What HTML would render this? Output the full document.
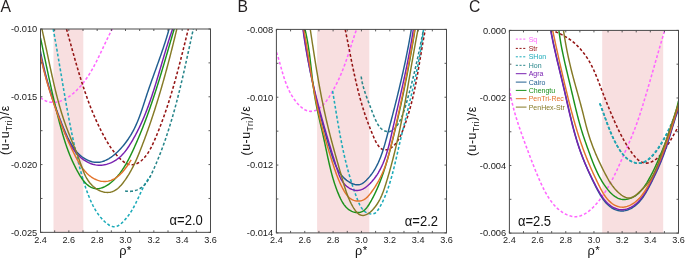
<!DOCTYPE html>
<html><head><meta charset="utf-8"><title>figure</title>
<style>html,body{margin:0;padding:0;background:#fff;width:685px;height:258px;overflow:hidden;font-family:"Liberation Sans",sans-serif}svg{display:block;will-change:transform}</style>
</head><body>
<svg xmlns="http://www.w3.org/2000/svg" width="685" height="258" viewBox="0 0 685 258" font-family=''Liberation Sans', sans-serif'>
<rect width="685" height="258" fill="#fff"/>
<clipPath id="clipA"><rect x="40.50" y="29.00" width="170.00" height="203.35"/></clipPath>
<rect x="53.50" y="29.00" width="29.80" height="203.35" fill="#f8dfe0"/>
<g clip-path="url(#clipA)" fill="none" stroke-linejoin="round">
<path d="M40.48,97.52 41.78,98.60 43.12,99.54 44.49,100.33 45.89,100.98 47.31,101.51 48.74,101.90 50.19,102.18 51.65,102.34 53.11,102.38 54.57,102.32 56.02,102.17 57.46,101.91 58.89,101.57 60.30,101.14 61.70,100.63 63.08,100.04 64.44,99.39 65.78,98.67 67.10,97.89 68.39,97.06 69.67,96.18 70.92,95.26 72.14,94.30 73.34,93.30 74.51,92.28 75.65,91.23 76.77,90.16 77.86,89.06 78.93,87.94 79.97,86.80 80.99,85.64 81.98,84.46 82.95,83.26 83.90,82.05 84.83,80.81 85.74,79.56 86.63,78.29 87.51,77.01 88.36,75.71 89.20,74.40 90.02,73.08 90.83,71.75 91.62,70.40 92.40,69.05 93.16,67.68 93.91,66.31 94.65,64.93 95.38,63.54 96.10,62.15 96.81,60.75 97.52,59.35 98.21,57.94 98.90,56.53 99.58,55.12 100.25,53.71 100.92,52.29 101.59,50.88 102.25,49.47 102.91,48.06 103.57,46.65 104.23,45.25 104.88,43.85 105.54,42.46 106.20,41.08 106.86,39.70 107.52,38.32 108.19,36.96 108.86,35.61 109.54,34.27 110.22,32.93 110.91,31.61 111.60,30.31 112.31,29.01" stroke="#ff66ff" stroke-width="1.55" stroke-dasharray="2.9 2.1"/>
<path d="M66.50,29.00 66.91,30.46 67.32,31.93 67.73,33.39 68.14,34.86 68.54,36.32 68.95,37.78 69.35,39.25 69.76,40.71 70.16,42.17 70.57,43.64 70.97,45.10 71.37,46.56 71.78,48.02 72.18,49.48 72.59,50.94 73.00,52.40 73.40,53.86 73.81,55.31 74.22,56.77 74.63,58.23 75.04,59.68 75.46,61.14 75.87,62.59 76.29,64.04 76.71,65.49 77.13,66.94 77.56,68.39 77.99,69.84 78.42,71.28 78.85,72.73 79.29,74.17 79.72,75.61 80.17,77.05 80.61,78.49 81.06,79.93 81.52,81.37 81.97,82.80 82.43,84.23 82.90,85.67 83.37,87.10 83.84,88.52 84.32,89.95 84.81,91.38 85.30,92.80 85.79,94.22 86.29,95.64 86.79,97.06 87.30,98.47 87.82,99.88 88.34,101.30 88.87,102.70 89.40,104.11 89.94,105.52 90.49,106.92 91.04,108.32 91.60,109.72 92.17,111.11 92.75,112.51 93.33,113.90 93.92,115.28 94.51,116.67 95.12,118.05 95.73,119.43 96.35,120.81 96.98,122.19 97.61,123.56 98.26,124.93 98.91,126.30 99.57,127.66 100.24,129.02 100.92,130.38 101.61,131.74 102.31,133.09 103.02,134.44 103.73,135.79 104.46,137.13 105.20,138.47 105.96,139.80 106.73,141.12 107.51,142.44 108.31,143.74 109.13,145.04 109.97,146.32 110.82,147.59 111.70,148.85 112.61,150.10 113.53,151.32 114.49,152.54 115.46,153.73 116.47,154.91 117.51,156.06 118.57,157.20 119.67,158.31 120.79,159.39 121.95,160.43 123.14,161.39 124.35,162.28 125.59,163.06 126.86,163.71 128.15,164.23 129.46,164.59 130.79,164.77 132.14,164.77 133.49,164.60 134.84,164.28 136.18,163.81 137.50,163.22 138.79,162.50 140.04,161.67 141.24,160.75 142.38,159.74 143.47,158.66 144.51,157.53 145.49,156.34 146.43,155.12 147.33,153.88 148.18,152.60 148.99,151.30 149.77,149.99 150.52,148.65 151.23,147.29 151.93,145.92 152.59,144.54 153.24,143.15 153.87,141.75 154.49,140.34 155.10,138.93 155.70,137.52 156.29,136.11 156.88,134.69 157.46,133.28 158.03,131.86 158.60,130.45 159.16,129.03 159.71,127.61 160.26,126.19 160.80,124.77 161.34,123.35 161.87,121.93 162.39,120.51 162.91,119.08 163.43,117.66 163.94,116.23 164.44,114.81 164.94,113.38 165.43,111.95 165.92,110.52 166.40,109.09 166.88,107.66 167.36,106.23 167.83,104.80 168.29,103.36 168.75,101.93 169.21,100.49 169.66,99.05 170.11,97.62 170.55,96.18 170.99,94.74 171.43,93.30 171.86,91.86 172.29,90.41 172.71,88.97 173.14,87.53 173.56,86.08 173.97,84.64 174.38,83.19 174.79,81.74 175.20,80.29 175.60,78.84 176.00,77.39 176.40,75.94 176.79,74.49 177.19,73.04 177.58,71.58 177.97,70.13 178.35,68.67 178.74,67.21 179.12,65.75 179.50,64.30 179.88,62.84 180.25,61.38 180.63,59.91 181.00,58.45 181.37,56.99 181.74,55.52 182.11,54.06 182.48,52.59 182.85,51.12 183.21,49.65 183.58,48.18 183.94,46.71 184.31,45.24 184.67,43.77 185.03,42.30 185.40,40.82 185.76,39.35 186.12,37.87 186.48,36.40 186.85,34.92 187.21,33.44 187.57,31.96 187.94,30.48 188.30,29.00" stroke="#941414" stroke-width="1.55" stroke-dasharray="2.9 2.1"/>
<path d="M53.20,29.00 53.48,30.51 53.76,32.02 54.04,33.53 54.31,35.04 54.58,36.55 54.86,38.06 55.13,39.56 55.40,41.07 55.66,42.57 55.93,44.07 56.19,45.58 56.45,47.08 56.72,48.58 56.98,50.08 57.24,51.57 57.49,53.07 57.75,54.57 58.01,56.06 58.26,57.56 58.52,59.05 58.77,60.55 59.02,62.04 59.28,63.53 59.53,65.02 59.78,66.51 60.03,68.00 60.28,69.49 60.53,70.98 60.78,72.47 61.03,73.96 61.29,75.45 61.54,76.93 61.79,78.42 62.04,79.90 62.29,81.39 62.54,82.87 62.79,84.36 63.04,85.84 63.30,87.33 63.55,88.81 63.80,90.29 64.06,91.78 64.32,93.26 64.57,94.74 64.83,96.22 65.09,97.70 65.35,99.19 65.61,100.67 65.87,102.15 66.14,103.63 66.40,105.11 66.67,106.59 66.93,108.08 67.20,109.56 67.47,111.04 67.75,112.52 68.02,114.00 68.30,115.48 68.58,116.96 68.86,118.45 69.14,119.93 69.43,121.41 69.71,122.89 70.00,124.38 70.29,125.86 70.59,127.34 70.88,128.82 71.18,130.31 71.49,131.79 71.79,133.28 72.10,134.76 72.41,136.25 72.72,137.73 73.04,139.22 73.36,140.71 73.68,142.19 74.00,143.68 74.33,145.17 74.67,146.66 75.00,148.15 75.34,149.64 75.68,151.13 76.03,152.62 76.38,154.11 76.73,155.60 77.09,157.10 77.45,158.59 77.82,160.09 78.19,161.58 78.56,163.08 78.94,164.57 79.32,166.07 79.71,167.56 80.11,169.05 80.51,170.54 80.91,172.03 81.33,173.51 81.74,175.00 82.17,176.47 82.60,177.95 83.04,179.42 83.49,180.88 83.94,182.34 84.40,183.80 84.87,185.25 85.35,186.69 85.84,188.13 86.34,189.55 86.84,190.97 87.36,192.39 87.88,193.79 88.41,195.19 88.96,196.58 89.51,197.95 90.08,199.32 90.66,200.68 91.26,202.02 91.88,203.36 92.52,204.68 93.18,206.00 93.87,207.29 94.58,208.58 95.33,209.86 96.10,211.12 96.91,212.36 97.76,213.59 98.64,214.81 99.56,216.01 100.53,217.20 101.53,218.37 102.59,219.53 103.69,220.66 104.84,221.78 106.03,222.84 107.26,223.82 108.52,224.71 109.79,225.47 111.09,226.07 112.40,226.50 113.71,226.73 115.02,226.73 116.32,226.48 117.62,225.98 118.89,225.27 120.14,224.39 121.37,223.37 122.57,222.25 123.74,221.06 124.87,219.85 125.96,218.62 127.00,217.36 128.00,216.10 128.95,214.83 129.85,213.54 130.71,212.25 131.54,210.95 132.33,209.64 133.09,208.32 133.82,207.00 134.53,205.67 135.21,204.34 135.87,203.00 136.52,201.66 137.16,200.32 137.78,198.97 138.40,197.62 139.02,196.28 139.64,194.93 140.26,193.58 140.88,192.24 141.52,190.90 142.16,189.56 142.83,188.22 143.51,186.89 144.21,185.57 144.94,184.25 145.69,182.93 146.48,181.63 147.30,180.33 148.16,179.04 149.06,177.76 150.00,176.50" stroke="#1cabb9" stroke-width="1.55" stroke-dasharray="2.9 2.1"/>
<path d="M125.08,190.95 126.66,191.23 128.24,191.38 129.81,191.40 131.36,191.31 132.88,191.11 134.37,190.79 135.82,190.37 137.23,189.86 138.58,189.25 139.86,188.55 141.08,187.77 142.23,186.91 143.31,185.98 144.34,184.98 145.31,183.92 146.23,182.81 147.10,181.64 147.93,180.42 148.72,179.16 149.48,177.87 150.20,176.54 150.90,175.19 151.58,173.82 152.24,172.43 152.88,171.03 153.52,169.62 154.15,168.21 154.77,166.80 155.38,165.39 155.99,163.98 156.58,162.56 157.18,161.14 157.76,159.73 158.34,158.30 158.92,156.88 159.48,155.45 160.04,154.03 160.60,152.60 161.14,151.17 161.69,149.73 162.22,148.30 162.75,146.86 163.27,145.43 163.79,143.99 164.31,142.55 164.81,141.10 165.31,139.66 165.81,138.22 166.30,136.77 166.78,135.32 167.26,133.87 167.74,132.42 168.21,130.97 168.67,129.51 169.13,128.06 169.59,126.60 170.04,125.14 170.49,123.68 170.93,122.22 171.37,120.76 171.80,119.30 172.23,117.84 172.65,116.37 173.07,114.91 173.49,113.44 173.90,111.97 174.31,110.50 174.71,109.03 175.12,107.56 175.51,106.09 175.91,104.62 176.30,103.14 176.68,101.67 177.07,100.19 177.45,98.72 177.83,97.24 178.20,95.76 178.57,94.29 178.94,92.81 179.31,91.33 179.67,89.85 180.03,88.37 180.39,86.89 180.75,85.41 181.10,83.92 181.45,82.44 181.80,80.96 182.15,79.48 182.49,77.99 182.84,76.51 183.18,75.02 183.52,73.54 183.86,72.05 184.19,70.57 184.53,69.08 184.86,67.60 185.19,66.11 185.52,64.63 185.85,63.14 186.18,61.66 186.51,60.17 186.84,58.68 187.16,57.20 187.49,55.71 187.81,54.23 188.14,52.74 188.46,51.25 188.78,49.77 189.11,48.28 189.43,46.80 189.75,45.31 190.07,43.83 190.40,42.35 190.72,40.86 191.04,39.38 191.36,37.89 191.69,36.41 192.01,34.93 192.33,33.45 192.66,31.97 192.98,30.49 193.31,29.00" stroke="#27858a" stroke-width="1.55" stroke-dasharray="2.9 2.1"/>
<path d="M40.50,51.49 40.79,53.02 41.09,54.53 41.39,56.04 41.69,57.55 42.01,59.05 42.32,60.55 42.65,62.04 42.98,63.53 43.31,65.01 43.65,66.49 44.00,67.96 44.35,69.44 44.71,70.90 45.07,72.37 45.44,73.83 45.81,75.29 46.19,76.74 46.58,78.19 46.97,79.64 47.37,81.09 47.77,82.53 48.18,83.97 48.59,85.41 49.01,86.84 49.44,88.28 49.87,89.71 50.31,91.14 50.75,92.57 51.20,94.00 51.65,95.43 52.11,96.85 52.57,98.28 53.04,99.70 53.52,101.12 54.00,102.55 54.49,103.97 54.98,105.39 55.48,106.81 55.98,108.23 56.49,109.65 57.00,111.08 57.52,112.50 58.05,113.92 58.58,115.35 59.12,116.77 59.66,118.20 60.21,119.62 60.76,121.05 61.32,122.48 61.88,123.91 62.45,125.34 63.03,126.78 63.61,128.21 64.20,129.64 64.80,131.07 65.41,132.49 66.03,133.90 66.67,135.31 67.32,136.70 67.98,138.09 68.67,139.45 69.37,140.80 70.09,142.14 70.83,143.45 71.59,144.74 72.38,146.01 73.19,147.25 74.03,148.47 74.91,149.65 75.82,150.81 76.77,151.93 77.77,153.02 78.82,154.08 79.92,155.10 81.08,156.07 82.29,157.01 83.56,157.89 84.87,158.72 86.22,159.49 87.61,160.17 89.03,160.78 90.47,161.30 91.92,161.71 93.38,162.02 94.85,162.22 96.31,162.30 97.76,162.28 99.19,162.16 100.61,161.93 102.00,161.61 103.38,161.20 104.73,160.70 106.06,160.13 107.37,159.48 108.66,158.76 109.93,157.98 111.18,157.13 112.41,156.24 113.61,155.30 114.80,154.32 115.96,153.29 117.10,152.24 118.21,151.16 119.31,150.06 120.38,148.93 121.43,147.78 122.45,146.61 123.45,145.42 124.43,144.22 125.39,142.99 126.32,141.75 127.22,140.50 128.11,139.23 128.96,137.94 129.80,136.65 130.61,135.35 131.39,134.03 132.15,132.71 132.89,131.38 133.59,130.05 134.28,128.71 134.94,127.37 135.58,126.02 136.20,124.66 136.80,123.30 137.38,121.94 137.95,120.56 138.50,119.19 139.03,117.81 139.55,116.43 140.06,115.04 140.56,113.65 141.05,112.25 141.54,110.85 142.01,109.45 142.48,108.04 142.95,106.63 143.41,105.22 143.87,103.80 144.33,102.38 144.79,100.96 145.25,99.53 145.71,98.10 146.18,96.67 146.65,95.24 147.13,93.80 147.62,92.36 148.11,90.92 148.60,89.48 149.10,88.04 149.60,86.59 150.10,85.15 150.61,83.70 151.12,82.25 151.64,80.80 152.15,79.35 152.67,77.90 153.19,76.45 153.71,74.99 154.23,73.54 154.76,72.09 155.28,70.63 155.80,69.18 156.33,67.72 156.85,66.27 157.37,64.82 157.89,63.37 158.40,61.91 158.92,60.46 159.43,59.01 159.94,57.56 160.45,56.12 160.96,54.67 161.46,53.22 161.95,51.78 162.45,50.34 162.93,48.90 163.42,47.46 163.89,46.02 164.37,44.59 164.83,43.16 165.29,41.73 165.75,40.30 166.19,38.88 166.63,37.46 167.06,36.04 167.49,34.63 167.90,33.22 168.31,31.81 168.71,30.40 169.10,29.00" stroke="#205e90" stroke-width="1.45"/>
<path d="M40.50,54.49 40.82,56.02 41.13,57.55 41.46,59.06 41.79,60.57 42.12,62.08 42.47,63.58 42.81,65.07 43.16,66.55 43.52,68.03 43.88,69.50 44.24,70.97 44.62,72.44 44.99,73.89 45.37,75.35 45.76,76.80 46.15,78.24 46.55,79.69 46.95,81.12 47.36,82.56 47.77,83.99 48.18,85.42 48.61,86.85 49.03,88.27 49.46,89.69 49.90,91.11 50.34,92.53 50.79,93.94 51.24,95.36 51.69,96.77 52.16,98.19 52.62,99.60 53.09,101.01 53.57,102.42 54.05,103.84 54.53,105.25 55.02,106.66 55.52,108.08 56.02,109.49 56.52,110.91 57.03,112.33 57.54,113.75 58.06,115.17 58.58,116.59 59.11,118.02 59.64,119.45 60.18,120.88 60.72,122.32 61.27,123.76 61.82,125.20 62.38,126.65 62.94,128.10 63.51,129.54 64.09,130.99 64.67,132.44 65.28,133.88 65.89,135.31 66.52,136.73 67.16,138.14 67.83,139.54 68.51,140.93 69.22,142.30 69.94,143.65 70.69,144.98 71.47,146.28 72.27,147.57 73.11,148.82 73.97,150.05 74.86,151.26 75.79,152.42 76.75,153.56 77.75,154.66 78.79,155.72 79.87,156.75 80.98,157.73 82.14,158.67 83.34,159.56 84.58,160.41 85.85,161.20 87.16,161.93 88.49,162.60 89.85,163.20 91.24,163.74 92.64,164.20 94.07,164.58 95.51,164.88 96.96,165.10 98.42,165.23 99.89,165.26 101.36,165.20 102.83,165.06 104.29,164.83 105.75,164.53 107.20,164.14 108.63,163.68 110.04,163.15 111.44,162.55 112.80,161.88 114.14,161.16 115.44,160.37 116.71,159.53 117.93,158.64 119.11,157.70 120.25,156.71 121.35,155.68 122.40,154.60 123.42,153.50 124.40,152.35 125.35,151.18 126.27,149.98 127.16,148.76 128.02,147.51 128.87,146.25 129.69,144.97 130.49,143.68 131.29,142.39 132.06,141.08 132.83,139.77 133.58,138.46 134.32,137.14 135.05,135.81 135.77,134.48 136.47,133.14 137.16,131.80 137.85,130.45 138.52,129.10 139.18,127.74 139.83,126.38 140.47,125.01 141.10,123.64 141.72,122.26 142.34,120.88 142.94,119.50 143.53,118.11 144.12,116.72 144.69,115.33 145.26,113.93 145.82,112.52 146.37,111.12 146.92,109.71 147.46,108.29 147.99,106.88 148.51,105.46 149.03,104.04 149.54,102.61 150.04,101.19 150.54,99.76 151.03,98.32 151.52,96.89 152.00,95.45 152.48,94.01 152.95,92.57 153.42,91.13 153.89,89.69 154.35,88.24 154.80,86.79 155.25,85.34 155.70,83.89 156.15,82.44 156.59,80.99 157.03,79.54 157.47,78.08 157.91,76.63 158.34,75.18 158.77,73.72 159.20,72.26 159.63,70.81 160.06,69.35 160.49,67.90 160.92,66.44 161.34,64.98 161.77,63.53 162.20,62.07 162.63,60.62 163.05,59.17 163.48,57.71 163.91,56.26 164.34,54.81 164.78,53.36 165.21,51.91 165.65,50.46 166.09,49.02 166.53,47.57 166.97,46.13 167.42,44.69 167.87,43.25 168.33,41.82 168.78,40.38 169.25,38.95 169.71,37.52 170.18,36.10 170.66,34.67 171.14,33.25 171.62,31.83 172.11,30.42 172.61,29.00" stroke="#7820b0" stroke-width="1.45"/>
<path d="M40.50,37.80 40.81,39.29 41.12,40.77 41.43,42.25 41.74,43.74 42.05,45.21 42.35,46.69 42.66,48.17 42.97,49.64 43.28,51.11 43.59,52.58 43.90,54.05 44.21,55.52 44.52,56.99 44.83,58.46 45.14,59.93 45.45,61.39 45.76,62.86 46.07,64.33 46.38,65.79 46.70,67.26 47.01,68.73 47.32,70.20 47.64,71.66 47.96,73.13 48.27,74.60 48.59,76.07 48.91,77.55 49.23,79.02 49.56,80.50 49.88,81.97 50.20,83.45 50.53,84.93 50.86,86.41 51.18,87.89 51.51,89.37 51.85,90.85 52.18,92.33 52.52,93.81 52.85,95.30 53.19,96.78 53.53,98.26 53.87,99.74 54.22,101.22 54.56,102.70 54.91,104.17 55.26,105.65 55.62,107.13 55.97,108.60 56.33,110.07 56.69,111.54 57.05,113.01 57.41,114.48 57.78,115.94 58.15,117.40 58.52,118.86 58.90,120.32 59.27,121.77 59.65,123.22 60.04,124.67 60.42,126.11 60.81,127.55 61.21,128.99 61.60,130.42 62.01,131.85 62.42,133.28 62.83,134.70 63.25,136.13 63.68,137.55 64.11,138.96 64.56,140.38 65.01,141.79 65.47,143.20 65.94,144.61 66.42,146.02 66.91,147.42 67.42,148.83 67.93,150.23 68.46,151.63 69.00,153.02 69.55,154.42 70.12,155.82 70.70,157.21 71.29,158.60 71.90,160.00 72.53,161.39 73.17,162.78 73.83,164.17 74.50,165.56 75.20,166.95 75.91,168.34 76.64,169.73 77.39,171.11 78.17,172.50 78.96,173.89 79.77,175.27 80.62,176.63 81.49,177.96 82.40,179.26 83.34,180.51 84.32,181.72 85.35,182.86 86.43,183.93 87.55,184.93 88.72,185.85 89.94,186.65 91.20,187.35 92.50,187.91 93.82,188.32 95.18,188.57 96.55,188.67 97.94,188.63 99.33,188.45 100.71,188.15 102.09,187.74 103.46,187.22 104.79,186.60 106.11,185.91 107.39,185.13 108.64,184.29 109.86,183.40 111.05,182.45 112.21,181.47 113.33,180.46 114.42,179.43 115.48,178.36 116.51,177.26 117.51,176.15 118.48,175.00 119.43,173.84 120.35,172.65 121.24,171.44 122.11,170.21 122.95,168.96 123.78,167.70 124.58,166.42 125.37,165.12 126.14,163.81 126.89,162.49 127.62,161.15 128.34,159.81 129.04,158.46 129.74,157.09 130.42,155.72 131.09,154.35 131.75,152.97 132.40,151.59 133.04,150.20 133.68,148.82 134.31,147.43 134.94,146.04 135.56,144.65 136.17,143.26 136.78,141.87 137.38,140.48 137.98,139.08 138.57,137.69 139.16,136.29 139.74,134.89 140.32,133.50 140.89,132.10 141.46,130.70 142.02,129.30 142.57,127.89 143.13,126.49 143.67,125.09 144.22,123.68 144.75,122.28 145.29,120.87 145.82,119.46 146.34,118.05 146.86,116.64 147.38,115.23 147.89,113.82 148.40,112.41 148.91,110.99 149.41,109.58 149.90,108.16 150.40,106.75 150.89,105.33 151.38,103.91 151.86,102.49 152.34,101.07 152.82,99.65 153.29,98.23 153.77,96.80 154.23,95.38 154.70,93.96 155.16,92.53 155.62,91.10 156.08,89.68 156.54,88.25 156.99,86.82 157.44,85.39 157.89,83.96 158.34,82.53 158.78,81.09 159.23,79.66 159.67,78.23 160.11,76.79 160.55,75.36 160.98,73.92 161.42,72.48 161.85,71.04 162.28,69.60 162.71,68.16 163.14,66.72 163.57,65.28 164.00,63.84 164.43,62.40 164.85,60.95 165.28,59.51 165.70,58.06 166.13,56.62 166.55,55.17 166.97,53.72 167.40,52.27 167.82,50.82 168.24,49.37 168.66,47.92 169.09,46.47 169.51,45.02 169.93,43.57 170.36,42.11 170.78,40.66 171.21,39.20 171.63,37.75 172.06,36.29 172.48,34.83 172.91,33.37 173.34,31.92 173.77,30.46 174.20,29.00" stroke="#1c921c" stroke-width="1.45"/>
<path d="M40.50,55.99 40.82,57.50 41.14,59.01 41.48,60.51 41.82,62.01 42.16,63.51 42.52,65.00 42.88,66.49 43.24,67.98 43.61,69.47 43.99,70.95 44.38,72.43 44.77,73.91 45.17,75.38 45.57,76.86 45.98,78.33 46.39,79.79 46.81,81.26 47.24,82.72 47.67,84.18 48.10,85.64 48.54,87.10 48.98,88.55 49.43,90.00 49.89,91.45 50.34,92.90 50.81,94.35 51.27,95.79 51.74,97.23 52.22,98.67 52.69,100.11 53.17,101.55 53.66,102.98 54.15,104.41 54.64,105.85 55.13,107.27 55.63,108.70 56.13,110.13 56.63,111.55 57.14,112.98 57.65,114.40 58.16,115.82 58.67,117.24 59.19,118.66 59.72,120.07 60.24,121.49 60.78,122.90 61.31,124.32 61.86,125.73 62.40,127.14 62.96,128.55 63.52,129.96 64.08,131.36 64.65,132.77 65.23,134.18 65.82,135.58 66.41,136.99 67.01,138.39 67.62,139.79 68.23,141.20 68.86,142.60 69.49,144.00 70.13,145.40 70.78,146.80 71.43,148.20 72.10,149.60 72.78,151.00 73.47,152.40 74.16,153.80 74.87,155.19 75.59,156.59 76.32,157.98 77.07,159.37 77.83,160.75 78.61,162.11 79.41,163.45 80.24,164.78 81.09,166.08 81.96,167.35 82.87,168.59 83.80,169.80 84.77,170.97 85.78,172.10 86.82,173.19 87.89,174.23 89.01,175.21 90.18,176.15 91.38,177.02 92.64,177.84 93.94,178.59 95.29,179.27 96.68,179.88 98.10,180.40 99.55,180.84 101.02,181.17 102.48,181.40 103.95,181.52 105.41,181.52 106.85,181.39 108.26,181.14 109.66,180.78 111.04,180.32 112.39,179.75 113.71,179.09 115.01,178.35 116.27,177.52 117.51,176.62 118.71,175.66 119.88,174.63 121.01,173.55 122.10,172.42 123.16,171.25 124.17,170.04 125.14,168.80 126.08,167.55 126.98,166.27 127.86,164.99 128.72,163.70 129.55,162.42 130.38,161.15 131.19,159.89" stroke="#e3742c" stroke-width="1.45"/>
<path d="M41.90,29.00 42.24,30.45 42.57,31.90 42.90,33.35 43.23,34.80 43.56,36.26 43.88,37.72 44.21,39.18 44.53,40.65 44.85,42.11 45.16,43.58 45.48,45.05 45.80,46.53 46.11,48.00 46.43,49.48 46.74,50.96 47.05,52.44 47.36,53.92 47.68,55.40 47.99,56.89 48.30,58.37 48.62,59.86 48.93,61.34 49.25,62.83 49.56,64.32 49.88,65.81 50.20,67.30 50.52,68.79 50.84,70.27 51.16,71.76 51.49,73.25 51.81,74.74 52.14,76.23 52.48,77.71 52.81,79.20 53.15,80.69 53.49,82.17 53.83,83.65 54.18,85.14 54.53,86.62 54.88,88.10 55.24,89.57 55.60,91.05 55.96,92.53 56.33,94.00 56.71,95.47 57.09,96.94 57.47,98.40 57.86,99.87 58.25,101.33 58.65,102.79 59.05,104.24 59.46,105.70 59.88,107.15 60.30,108.60 60.72,110.04 61.16,111.48 61.60,112.92 62.04,114.35 62.50,115.78 62.96,117.21 63.42,118.63 63.90,120.05 64.38,121.46 64.87,122.87 65.37,124.27 65.87,125.67 66.38,127.07 66.90,128.46 67.43,129.85 67.96,131.23 68.50,132.62 69.05,134.00 69.60,135.38 70.15,136.76 70.70,138.14 71.26,139.52 71.82,140.90 72.39,142.28 72.95,143.67 73.51,145.06 74.08,146.45 74.64,147.84 75.20,149.24 75.76,150.65 76.32,152.06 76.88,153.48 77.43,154.90 77.98,156.34 78.52,157.78 79.06,159.22 79.59,160.68 80.12,162.15 80.64,163.63 81.15,165.11 81.67,166.60 82.19,168.09 82.73,169.58 83.29,171.05 83.88,172.51 84.50,173.96 85.15,175.38 85.85,176.77 86.60,178.13 87.40,179.46 88.26,180.75 89.17,182.00 90.12,183.19 91.13,184.33 92.18,185.42 93.28,186.45 94.41,187.41 95.59,188.29 96.80,189.11 98.05,189.85 99.33,190.50 100.64,191.06 101.98,191.54 103.35,191.92 104.72,192.19 106.11,192.36 107.49,192.42 108.87,192.36 110.23,192.18 111.57,191.88 112.89,191.45 114.17,190.88 115.41,190.18 116.61,189.36 117.78,188.45 118.92,187.44 120.02,186.35 121.09,185.19 122.12,183.98 123.12,182.72 124.09,181.43 125.04,180.13 125.95,178.82 126.83,177.50 127.68,176.18 128.51,174.86 129.31,173.52 130.09,172.19 130.85,170.85 131.58,169.51 132.30,168.16 132.99,166.81 133.67,165.45 134.33,164.09 134.97,162.73 135.60,161.37 136.22,160.00 136.82,158.62 137.41,157.25 137.99,155.87 138.57,154.49 139.13,153.11 139.69,151.72 140.25,150.33 140.80,148.94 141.34,147.55 141.89,146.15 142.42,144.75 142.96,143.35 143.49,141.95 144.02,140.55 144.55,139.14 145.07,137.73 145.59,136.32 146.11,134.91 146.62,133.50 147.13,132.08 147.64,130.67 148.14,129.25 148.64,127.83 149.14,126.41 149.64,124.98 150.13,123.56 150.62,122.13 151.10,120.70 151.59,119.27 152.07,117.84 152.54,116.40 153.02,114.97 153.49,113.53 153.96,112.10 154.42,110.66 154.89,109.22 155.35,107.78 155.80,106.33 156.26,104.89 156.71,103.45 157.16,102.00 157.61,100.55 158.05,99.10 158.49,97.65 158.93,96.20 159.37,94.75 159.80,93.30 160.24,91.85 160.67,90.39 161.09,88.94 161.52,87.48 161.94,86.03 162.36,84.57 162.78,83.11 163.19,81.65 163.60,80.20 164.01,78.74 164.42,77.28 164.83,75.82 165.23,74.35 165.63,72.89 166.03,71.43 166.43,69.97 166.83,68.51 167.22,67.04 167.61,65.58 168.00,64.12 168.39,62.65 168.77,61.19 169.16,59.72 169.54,58.26 169.92,56.80 170.29,55.33 170.67,53.87 171.04,52.40 171.42,50.94 171.79,49.47 172.15,48.01 172.52,46.55 172.89,45.08 173.25,43.62 173.61,42.15 173.97,40.69 174.33,39.23 174.69,37.77 175.04,36.30 175.40,34.84 175.75,33.38 176.10,31.92 176.45,30.46 176.80,29.00" stroke="#857a26" stroke-width="1.45"/>
</g>
<path d="M40.50,232.35v-2M40.50,29.00v2M54.67,232.35v-2M54.67,29.00v2M68.83,232.35v-2M68.83,29.00v2M83.00,232.35v-2M83.00,29.00v2M97.17,232.35v-2M97.17,29.00v2M111.33,232.35v-2M111.33,29.00v2M125.50,232.35v-2M125.50,29.00v2M139.67,232.35v-2M139.67,29.00v2M153.83,232.35v-2M153.83,29.00v2M168.00,232.35v-2M168.00,29.00v2M182.17,232.35v-2M182.17,29.00v2M196.33,232.35v-2M196.33,29.00v2M210.50,232.35v-2M210.50,29.00v2M40.50,29.00h2M210.50,29.00h-2M40.50,62.89h2M210.50,62.89h-2M40.50,96.78h2M210.50,96.78h-2M40.50,130.68h2M210.50,130.68h-2M40.50,164.57h2M210.50,164.57h-2M40.50,198.46h2M210.50,198.46h-2M40.50,232.35h2M210.50,232.35h-2" stroke="#4a4a4a" stroke-width="0.9" fill="none"/>
<rect x="40.50" y="29.00" width="170.00" height="203.35" fill="none" stroke="#4a4a4a" stroke-width="1"/>
<text x="40.50" y="242.5" font-size="9.1" text-anchor="middle" fill="#222">2.4</text>
<text x="68.83" y="242.5" font-size="9.1" text-anchor="middle" fill="#222">2.6</text>
<text x="97.17" y="242.5" font-size="9.1" text-anchor="middle" fill="#222">2.8</text>
<text x="125.50" y="242.5" font-size="9.1" text-anchor="middle" fill="#222">3.0</text>
<text x="153.83" y="242.5" font-size="9.1" text-anchor="middle" fill="#222">3.2</text>
<text x="182.17" y="242.5" font-size="9.1" text-anchor="middle" fill="#222">3.4</text>
<text x="210.50" y="242.5" font-size="9.1" text-anchor="middle" fill="#222">3.6</text>
<text x="37.30" y="32.30" font-size="9.3" text-anchor="end" fill="#222">-0.010</text>
<text x="37.30" y="100.08" font-size="9.3" text-anchor="end" fill="#222">-0.015</text>
<text x="37.30" y="167.87" font-size="9.3" text-anchor="end" fill="#222">-0.020</text>
<text x="37.30" y="235.65" font-size="9.3" text-anchor="end" fill="#222">-0.025</text>
<text x="125.20" y="254.7" font-size="12.8" text-anchor="middle" fill="#111">ρ<tspan font-size="11.5" dy="-1.0" dx="0.3">*</tspan></text>
<text transform="translate(9.30,130.08) rotate(-90)" font-size="12.4" letter-spacing="0.5" text-anchor="middle" fill="#111">(u-u<tspan font-size="8.5" dy="3">Tri</tspan><tspan dy="-3">)/ε</tspan></text>
<text transform="translate(169.60,225.40) scale(0.93,1)" font-size="14" fill="#111">α=2.0</text>
<text x="0.50" y="11.8" font-size="15.7" fill="#231f20">A</text>
<clipPath id="clipB"><rect x="276.40" y="29.40" width="170.10" height="203.50"/></clipPath>
<rect x="317.10" y="29.40" width="52.20" height="203.50" fill="#f8dfe0"/>
<g clip-path="url(#clipB)" fill="none" stroke-linejoin="round">
<path d="M276.50,52.30 276.98,53.74 277.44,55.19 277.90,56.64 278.34,58.09 278.77,59.55 279.20,61.01 279.62,62.48 280.03,63.95 280.44,65.42 280.85,66.88 281.27,68.35 281.68,69.82 282.10,71.29 282.53,72.75 282.96,74.21 283.41,75.67 283.86,77.12 284.33,78.57 284.81,80.01 285.32,81.45 285.84,82.88 286.38,84.30 286.94,85.71 287.53,87.12 288.14,88.51 288.78,89.89 289.45,91.27 290.16,92.63 290.89,93.97 291.66,95.31 292.47,96.63 293.31,97.94 294.20,99.23 295.13,100.50 296.10,101.76 297.12,103.00 298.17,104.20 299.27,105.36 300.41,106.46 301.59,107.48 302.79,108.42 304.03,109.25 305.30,109.96 306.60,110.54 307.92,110.98 309.26,111.26 310.62,111.36 312.00,111.29 313.37,111.06 314.73,110.68 316.07,110.17 317.36,109.53 318.61,108.77 319.82,107.92 320.99,106.96 322.12,105.93 323.21,104.81 324.27,103.63 325.29,102.40 326.28,101.11 327.24,99.78 328.16,98.43 329.06,97.05 329.92,95.66 330.76,94.26 331.57,92.88 332.36,91.50 333.13,90.15 333.87,88.82 334.60,87.50 335.30,86.19 335.99,84.88 336.65,83.58 337.31,82.28 337.95,80.97 338.57,79.66 339.19,78.33 339.79,76.99 340.39,75.63 340.97,74.26 341.55,72.88 342.12,71.49 342.67,70.08 343.23,68.67 343.77,67.24 344.30,65.81 344.83,64.37 345.36,62.92 345.87,61.46 346.39,60.00 346.89,58.54 347.39,57.07 347.89,55.60 348.38,54.12 348.87,52.65 349.36,51.17 349.84,49.69 350.32,48.22 350.80,46.74 351.27,45.27 351.75,43.81 352.22,42.34 352.70,40.88 353.17,39.43 353.64,37.99 354.11,36.55 354.59,35.12 355.06,33.70 355.54,32.29 356.02,30.89 356.50,29.50" stroke="#ff66ff" stroke-width="1.55" stroke-dasharray="2.9 2.1"/>
<path d="M345.20,29.50 345.51,30.96 345.81,32.43 346.12,33.90 346.42,35.36 346.72,36.84 347.02,38.31 347.31,39.79 347.61,41.26 347.91,42.74 348.20,44.22 348.49,45.71 348.79,47.19 349.08,48.68 349.38,50.16 349.67,51.65 349.97,53.14 350.26,54.63 350.56,56.12 350.86,57.61 351.15,59.10 351.45,60.59 351.76,62.08 352.06,63.57 352.36,65.06 352.67,66.55 352.98,68.04 353.29,69.53 353.60,71.01 353.92,72.50 354.24,73.99 354.56,75.47 354.89,76.96 355.22,78.44 355.55,79.92 355.89,81.40 356.23,82.87 356.57,84.35 356.92,85.82 357.27,87.29 357.63,88.76 357.99,90.22 358.36,91.69 358.73,93.15 359.11,94.60 359.49,96.06 359.88,97.51 360.28,98.96 360.68,100.40 361.08,101.84 361.50,103.28 361.92,104.71 362.34,106.14 362.78,107.56 363.22,108.98 363.66,110.40 364.12,111.81 364.58,113.22 365.05,114.63 365.53,116.03 366.02,117.44 366.52,118.84 367.02,120.25 367.53,121.66 368.06,123.07 368.59,124.48 369.13,125.90 369.69,127.32 370.25,128.75 370.82,130.18 371.41,131.62 372.01,133.07 372.61,134.53 373.23,136.00 373.87,137.47 374.52,138.94 375.21,140.40 375.93,141.82 376.70,143.21 377.52,144.54 378.41,145.81 379.36,146.98 380.39,148.00 381.51,148.84 382.72,149.43 383.99,149.79 385.31,149.91 386.65,149.78 387.99,149.42 389.30,148.86 390.56,148.16 391.75,147.35 392.88,146.47 393.94,145.50 394.94,144.46 395.88,143.35 396.77,142.18 397.61,140.95 398.40,139.67 399.16,138.35 399.87,136.99 400.55,135.60 401.20,134.18 401.82,132.74 402.42,131.28 403.00,129.81 403.56,128.34 404.11,126.87 404.65,125.41 405.17,123.94 405.68,122.47 406.18,121.01 406.67,119.54 407.15,118.08 407.62,116.62 408.07,115.15 408.52,113.69 408.95,112.23 409.37,110.77 409.79,109.31 410.19,107.85 410.59,106.39 410.98,104.93 411.35,103.47 411.72,102.01 412.09,100.55 412.44,99.09 412.79,97.63 413.13,96.17 413.46,94.71 413.78,93.25 414.10,91.79 414.41,90.33 414.72,88.87 415.02,87.41 415.32,85.95 415.61,84.48 415.90,83.02 416.18,81.56 416.45,80.09 416.73,78.63 417.00,77.16 417.26,75.70 417.53,74.23 417.79,72.76 418.04,71.29 418.30,69.82 418.55,68.35 418.80,66.87 419.05,65.40 419.30,63.92 419.55,62.45 419.79,60.97 420.04,59.49 420.29,58.01 420.53,56.52 420.78,55.04 421.03,53.55 421.28,52.06 421.53,50.57 421.78,49.08 422.03,47.59 422.28,46.09 422.54,44.60 422.80,43.10 423.06,41.59 423.33,40.09 423.60,38.58 423.87,37.08 424.15,35.57 424.43,34.05 424.72,32.54 425.01,31.02 425.30,29.50" stroke="#941414" stroke-width="1.55" stroke-dasharray="2.9 2.1"/>
<path d="M332.60,90.99 332.85,92.52 333.11,94.05 333.36,95.57 333.61,97.09 333.87,98.60 334.11,100.11 334.36,101.62 334.61,103.13 334.86,104.64 335.11,106.14 335.35,107.64 335.60,109.14 335.85,110.63 336.09,112.13 336.34,113.62 336.59,115.10 336.84,116.59 337.09,118.08 337.34,119.56 337.59,121.04 337.84,122.52 338.10,124.00 338.35,125.48 338.61,126.95 338.87,128.43 339.13,129.90 339.40,131.37 339.67,132.84 339.94,134.31 340.21,135.78 340.49,137.24 340.77,138.71 341.05,140.18 341.34,141.64 341.63,143.11 341.93,144.57 342.23,146.03 342.53,147.50 342.84,148.96 343.15,150.42 343.47,151.89 343.79,153.35 344.12,154.81 344.45,156.27 344.79,157.74 345.14,159.20 345.49,160.66 345.85,162.13 346.21,163.59 346.58,165.06 346.95,166.52 347.34,167.99 347.73,169.45 348.12,170.92 348.53,172.39 348.94,173.86 349.36,175.33 349.79,176.80 350.22,178.28 350.66,179.75 351.12,181.23 351.58,182.71 352.04,184.18 352.52,185.67 353.01,187.15 353.50,188.63 354.01,190.12 354.52,191.61 355.05,193.10 355.58,194.59 356.13,196.08 356.68,197.58 357.25,199.08 357.83,200.56 358.44,202.03 359.08,203.46 359.75,204.85 360.47,206.18 361.24,207.45 362.06,208.64 362.94,209.74 363.90,210.74 364.93,211.63 366.04,212.40 367.24,213.03 368.53,213.52 369.92,213.85 371.36,214.00 372.80,213.92 374.15,213.60 375.36,212.99 376.40,212.10 377.31,211.00 378.14,209.79 378.93,208.53 379.70,207.25 380.45,205.94 381.17,204.61 381.88,203.27 382.56,201.90 383.22,200.51 383.86,199.11 384.48,197.70 385.09,196.27 385.67,194.83 386.24,193.38 386.79,191.92 387.33,190.45 387.85,188.98 388.35,187.51 388.84,186.03 389.32,184.55 389.78,183.07 390.23,181.59 390.67,180.11 391.10,178.64 391.52,177.17 391.93,175.69 392.32,174.23 392.71,172.76 393.09,171.29 393.47,169.83 393.83,168.36 394.19,166.90 394.55,165.44 394.90,163.98 395.24,162.52 395.59,161.06 395.92,159.60 396.26,158.14 396.59,156.68 396.93,155.23 397.26,153.77 397.59,152.31 397.92,150.85 398.26,149.39 398.59,147.93 398.93,146.47 399.27,145.01 399.61,143.55 399.96,142.08 400.30,140.62 400.65,139.16 401.00,137.69 401.35,136.23 401.70,134.76 402.06,133.29 402.41,131.83 402.77,130.36 403.13,128.89 403.48,127.42 403.84,125.95 404.20,124.48 404.56,123.01 404.92,121.54 405.29,120.07 405.65,118.60 406.01,117.13 406.37,115.65 406.73,114.18 407.09,112.70 407.45,111.23 407.81,109.75 408.17,108.28 408.53,106.80 408.89,105.33 409.25,103.85 409.61,102.37 409.96,100.89 410.32,99.41 410.67,97.93 411.02,96.45 411.37,94.97 411.72,93.49 412.07,92.01 412.41,90.53 412.75,89.05 413.09,87.57 413.43,86.08 413.77,84.60 414.10,83.12 414.43,81.63 414.76,80.15 415.09,78.67 415.41,77.18 415.73,75.70 416.04,74.21 416.36,72.72 416.67,71.24 416.97,69.75 417.27,68.26 417.57,66.78 417.87,65.29 418.16,63.80 418.45,62.31 418.73,60.82 419.01,59.33 419.28,57.84 419.55,56.36 419.81,54.87 420.07,53.38 420.33,51.89 420.58,50.39 420.83,48.90 421.07,47.41 421.30,45.92 421.53,44.43 421.75,42.94 421.97,41.45 422.18,39.95 422.39,38.46 422.59,36.97 422.79,35.48 422.97,33.98 423.16,32.49 423.33,31.00 423.50,29.50" stroke="#1cabb9" stroke-width="1.55" stroke-dasharray="2.9 2.1"/>
<path d="M361.20,76.50 361.41,78.02 361.64,79.53 361.92,81.03 362.22,82.51 362.56,83.99 362.92,85.46 363.31,86.92 363.73,88.38 364.16,89.82 364.62,91.26 365.09,92.69 365.58,94.12 366.08,95.55 366.59,96.96 367.12,98.38 367.65,99.79 368.18,101.20 368.72,102.61 369.26,104.02 369.80,105.43 370.33,106.83 370.86,108.24 371.39,109.65 371.93,111.06 372.47,112.47 373.02,113.89 373.59,115.31 374.17,116.74 374.78,118.16 375.41,119.60 376.08,121.04 376.78,122.47 377.53,123.87 378.34,125.22 379.23,126.50 380.20,127.69 381.27,128.76 382.45,129.70 383.74,130.48 385.11,131.09 386.51,131.50 387.90,131.68 389.25,131.64 390.52,131.34 391.73,130.84 392.88,130.14 393.95,129.27 394.97,128.27 395.93,127.15 396.84,125.95 397.70,124.68 398.50,123.38 399.26,122.05 399.98,120.69 400.66,119.31 401.30,117.91 401.91,116.49 402.49,115.06 403.04,113.60 403.56,112.14 404.06,110.67 404.54,109.19 405.01,107.70 405.46,106.21 405.90,104.72 406.33,103.23 406.76,101.74 407.18,100.26 407.60,98.78 408.01,97.30 408.42,95.82 408.82,94.35 409.22,92.88 409.62,91.41 410.01,89.94 410.39,88.47 410.77,87.01 411.15,85.55 411.52,84.08 411.89,82.62 412.26,81.16 412.62,79.70 412.98,78.24 413.33,76.79 413.69,75.33 414.03,73.87 414.38,72.41 414.72,70.96 415.06,69.50 415.40,68.04 415.73,66.58 416.06,65.12 416.39,63.66 416.72,62.20 417.04,60.74 417.36,59.27 417.68,57.81 418.00,56.34 418.32,54.87 418.63,53.40 418.95,51.93 419.26,50.46 419.57,48.98 419.87,47.50 420.18,46.02 420.49,44.53 420.79,43.04 421.10,41.55 421.40,40.06 421.70,38.56 422.00,37.06 422.30,35.56 422.60,34.05 422.90,32.54 423.20,31.02 423.50,29.50" stroke="#27858a" stroke-width="1.55" stroke-dasharray="2.9 2.1"/>
<path d="M303.32,29.49 303.53,31.01 303.74,32.54 303.95,34.06 304.17,35.58 304.39,37.10 304.61,38.61 304.84,40.12 305.07,41.63 305.30,43.13 305.53,44.63 305.77,46.13 306.01,47.63 306.25,49.13 306.50,50.62 306.75,52.11 307.00,53.60 307.26,55.09 307.51,56.57 307.77,58.05 308.04,59.54 308.30,61.01 308.57,62.49 308.84,63.97 309.12,65.44 309.40,66.91 309.68,68.38 309.96,69.85 310.25,71.32 310.54,72.79 310.83,74.25 311.13,75.72 311.43,77.18 311.73,78.64 312.04,80.10 312.34,81.56 312.65,83.02 312.97,84.48 313.29,85.94 313.61,87.40 313.93,88.85 314.26,90.31 314.58,91.77 314.92,93.22 315.25,94.68 315.59,96.13 315.93,97.58 316.28,99.04 316.63,100.49 316.98,101.95 317.33,103.40 317.69,104.86 318.05,106.31 318.41,107.77 318.78,109.22 319.15,110.68 319.52,112.13 319.89,113.59 320.27,115.05 320.66,116.51 321.04,117.96 321.43,119.42 321.82,120.88 322.22,122.35 322.61,123.81 323.01,125.27 323.42,126.73 323.83,128.20 324.24,129.67 324.65,131.14 325.07,132.60 325.49,134.08 325.91,135.55 326.34,137.02 326.77,138.50 327.20,139.97 327.64,141.45 328.08,142.93 328.52,144.42 328.97,145.90 329.41,147.39 329.87,148.88 330.32,150.37 330.78,151.86 331.25,153.35 331.72,154.84 332.21,156.33 332.71,157.80 333.22,159.27 333.75,160.72 334.30,162.16 334.88,163.58 335.48,164.99 336.11,166.37 336.77,167.72 337.46,169.05 338.18,170.35 338.95,171.61 339.75,172.85 340.60,174.04 341.49,175.20 342.43,176.31 343.42,177.38 344.46,178.41 345.55,179.39 346.71,180.31 347.92,181.18 349.19,182.00 350.53,182.75 351.91,183.43 353.33,184.00 354.77,184.43 356.21,184.72 357.64,184.83 359.03,184.73 360.38,184.41 361.68,183.86 362.92,183.13 364.11,182.24 365.26,181.25 366.36,180.20 367.42,179.11 368.45,178.00 369.43,176.86 370.38,175.70 371.29,174.51 372.17,173.31 373.02,172.08 373.83,170.83 374.61,169.57 375.37,168.28 376.09,166.98 376.79,165.66 377.46,164.32 378.11,162.97 378.73,161.60 379.33,160.22 379.91,158.83 380.47,157.42 381.01,156.01 381.53,154.58 382.03,153.14 382.52,151.70 383.00,150.25 383.46,148.79 383.91,147.32 384.35,145.85 384.78,144.38 385.20,142.90 385.61,141.42 386.02,139.93 386.42,138.45 386.82,136.97 387.21,135.48 387.61,134.00 388.00,132.52 388.39,131.04 388.78,129.56 389.17,128.09 389.56,126.61 389.95,125.14 390.33,123.67 390.72,122.20 391.10,120.73 391.49,119.27 391.87,117.80 392.25,116.33 392.63,114.87 393.00,113.41 393.38,111.94 393.75,110.48 394.13,109.02 394.50,107.56 394.87,106.10 395.24,104.64 395.60,103.19 395.97,101.73 396.33,100.27 396.69,98.81 397.05,97.36 397.41,95.90 397.77,94.44 398.12,92.99 398.47,91.53 398.83,90.07 399.18,88.62 399.52,87.16 399.87,85.70 400.21,84.24 400.55,82.79 400.89,81.33 401.23,79.87 401.57,78.41 401.90,76.95 402.23,75.49 402.56,74.03 402.89,72.56 403.21,71.10 403.53,69.63 403.85,68.17 404.17,66.70 404.49,65.23 404.80,63.77 405.11,62.30 405.42,60.82 405.73,59.35 406.03,57.88 406.33,56.40 406.63,54.92 406.93,53.44 407.22,51.96 407.51,50.48 407.80,48.99 408.09,47.51 408.37,46.02 408.65,44.53 408.93,43.04 409.20,41.54 409.48,40.04 409.74,38.54 410.01,37.04 410.28,35.54 410.54,34.03 410.79,32.52 411.05,31.01 411.30,29.49" stroke="#205e90" stroke-width="1.45"/>
<path d="M303.02,29.49 303.22,31.01 303.43,32.53 303.65,34.04 303.86,35.56 304.09,37.07 304.31,38.58 304.54,40.09 304.78,41.59 305.02,43.09 305.26,44.60 305.50,46.09 305.75,47.59 306.01,49.08 306.27,50.58 306.53,52.07 306.79,53.56 307.06,55.04 307.34,56.53 307.61,58.01 307.89,59.49 308.18,60.98 308.47,62.45 308.76,63.93 309.05,65.41 309.35,66.88 309.65,68.35 309.96,69.82 310.27,71.30 310.58,72.76 310.89,74.23 311.21,75.70 311.54,77.16 311.86,78.63 312.19,80.09 312.52,81.55 312.86,83.01 313.19,84.47 313.54,85.93 313.88,87.39 314.23,88.85 314.58,90.31 314.93,91.76 315.29,93.22 315.65,94.67 316.01,96.13 316.37,97.58 316.74,99.04 317.11,100.49 317.49,101.94 317.86,103.39 318.24,104.85 318.62,106.30 319.01,107.75 319.39,109.20 319.78,110.65 320.17,112.10 320.57,113.56 320.97,115.01 321.37,116.46 321.77,117.91 322.17,119.36 322.58,120.81 322.99,122.27 323.40,123.72 323.81,125.17 324.23,126.62 324.64,128.08 325.07,129.53 325.49,130.99 325.91,132.44 326.34,133.90 326.77,135.35 327.20,136.81 327.63,138.27 328.06,139.73 328.50,141.19 328.94,142.65 329.38,144.11 329.82,145.57 330.26,147.03 330.71,148.50 331.16,149.96 331.61,151.43 332.06,152.90 332.51,154.37 332.96,155.84 333.42,157.31 333.88,158.78 334.33,160.25 334.79,161.73 335.26,163.21 335.72,164.69 336.18,166.17 336.65,167.65 337.12,169.13 337.59,170.61 338.08,172.08 338.60,173.54 339.14,174.98 339.72,176.40 340.35,177.78 341.03,179.13 341.77,180.45 342.58,181.71 343.46,182.93 344.43,184.09 345.49,185.19 346.63,186.21 347.86,187.16 349.14,188.02 350.48,188.76 351.85,189.39 353.25,189.89 354.65,190.24 356.05,190.43 357.44,190.45 358.80,190.32 360.13,190.03 361.45,189.60 362.73,189.04 363.99,188.37 365.22,187.60 366.42,186.74 367.59,185.80 368.72,184.79 369.82,183.73 370.89,182.63 371.92,181.50 372.91,180.34 373.87,179.17 374.79,177.97 375.68,176.76 376.53,175.53 377.35,174.28 378.14,173.01 378.90,171.72 379.64,170.42 380.34,169.11 381.02,167.77 381.67,166.43 382.29,165.07 382.90,163.70 383.47,162.31 384.03,160.92 384.57,159.51 385.08,158.09 385.58,156.66 386.06,155.23 386.53,153.78 386.97,152.33 387.41,150.87 387.82,149.40 388.23,147.92 388.63,146.45 389.01,144.96 389.38,143.47 389.75,141.98 390.11,140.49 390.46,138.99 390.81,137.50 391.15,136.00 391.49,134.50 391.82,133.00 392.16,131.50 392.49,130.01 392.82,128.51 393.16,127.02 393.50,125.53 393.83,124.04 394.17,122.56 394.50,121.07 394.84,119.59 395.18,118.11 395.52,116.63 395.85,115.16 396.19,113.68 396.53,112.21 396.87,110.74 397.20,109.26 397.54,107.79 397.88,106.33 398.21,104.86 398.55,103.39 398.89,101.93 399.22,100.46 399.56,99.00 399.89,97.53 400.22,96.07 400.55,94.61 400.88,93.14 401.21,91.68 401.54,90.22 401.87,88.76 402.20,87.30 402.52,85.83 402.85,84.37 403.17,82.91 403.49,81.45 403.81,79.99 404.13,78.52 404.44,77.06 404.76,75.59 405.07,74.13 405.38,72.66 405.69,71.20 406.00,69.73 406.30,68.26 406.61,66.79 406.91,65.32 407.21,63.85 407.50,62.38 407.80,60.91 408.09,59.43 408.38,57.95 408.66,56.47 408.95,54.99 409.23,53.51 409.51,52.03 409.78,50.54 410.05,49.05 410.32,47.56 410.59,46.07 410.85,44.58 411.11,43.08 411.37,41.58 411.62,40.08 411.87,38.58 412.12,37.07 412.36,35.56 412.60,34.05 412.84,32.53 413.07,31.01 413.30,29.49" stroke="#7820b0" stroke-width="1.45"/>
<path d="M305.00,29.50 305.36,30.98 305.70,32.45 306.03,33.93 306.34,35.41 306.65,36.89 306.94,38.37 307.22,39.85 307.49,41.33 307.76,42.82 308.01,44.30 308.25,45.79 308.48,47.27 308.71,48.76 308.93,50.24 309.14,51.73 309.35,53.22 309.55,54.71 309.74,56.20 309.93,57.69 310.12,59.18 310.30,60.67 310.47,62.16 310.65,63.65 310.82,65.15 310.99,66.64 311.16,68.13 311.33,69.62 311.50,71.12 311.66,72.61 311.83,74.11 312.00,75.60 312.17,77.09 312.34,78.59 312.52,80.08 312.70,81.58 312.88,83.07 313.07,84.56 313.26,86.06 313.45,87.55 313.66,89.05 313.86,90.54 314.08,92.03 314.30,93.53 314.53,95.02 314.76,96.51 315.01,98.00 315.26,99.49 315.53,100.99 315.80,102.48 316.09,103.97 316.38,105.46 316.67,106.95 316.98,108.44 317.29,109.92 317.61,111.41 317.93,112.90 318.26,114.38 318.59,115.87 318.93,117.36 319.27,118.84 319.61,120.32 319.95,121.80 320.29,123.29 320.64,124.77 320.98,126.25 321.33,127.72 321.67,129.20 322.01,130.68 322.35,132.15 322.69,133.63 323.02,135.10 323.35,136.57 323.67,138.05 324.00,139.51 324.31,140.98 324.63,142.45 324.94,143.92 325.25,145.38 325.56,146.84 325.87,148.30 326.18,149.77 326.49,151.22 326.79,152.68 327.10,154.14 327.42,155.59 327.73,157.04 328.05,158.49 328.37,159.94 328.69,161.39 329.02,162.83 329.35,164.28 329.69,165.72 330.03,167.16 330.38,168.60 330.74,170.03 331.10,171.47 331.47,172.90 331.85,174.33 332.24,175.76 332.64,177.20 333.05,178.63 333.48,180.06 333.92,181.50 334.38,182.94 334.85,184.38 335.34,185.82 335.85,187.27 336.38,188.73 336.93,190.19 337.50,191.66 338.10,193.13 338.72,194.61 339.36,196.10 340.04,197.58 340.74,199.05 341.49,200.49 342.27,201.90 343.10,203.27 343.98,204.58 344.91,205.82 345.90,206.99 346.94,208.08 348.05,209.07 349.22,209.95 350.47,210.72 351.78,211.36 353.16,211.87 354.56,212.25 355.98,212.48 357.40,212.56 358.80,212.49 360.15,212.26 361.44,211.87 362.65,211.30 363.78,210.59 364.84,209.73 365.83,208.75 366.77,207.67 367.66,206.51 368.50,205.27 369.31,203.99 370.09,202.67 370.85,201.34 371.59,200.01 372.32,198.67 373.03,197.32 373.73,195.96 374.40,194.60 375.07,193.24 375.72,191.87 376.35,190.49 376.98,189.11 377.58,187.73 378.18,186.34 378.76,184.95 379.33,183.55 379.89,182.14 380.44,180.74 380.98,179.33 381.50,177.91 382.02,176.49 382.52,175.07 383.02,173.64 383.50,172.22 383.98,170.78 384.45,169.35 384.91,167.91 385.37,166.47 385.81,165.03 386.25,163.58 386.69,162.13 387.11,160.68 387.53,159.23 387.95,157.78 388.36,156.32 388.76,154.86 389.16,153.41 389.55,151.95 389.94,150.48 390.33,149.02 390.71,147.56 391.09,146.10 391.46,144.63 391.83,143.17 392.20,141.70 392.57,140.24 392.94,138.77 393.30,137.30 393.66,135.84 394.02,134.37 394.38,132.91 394.74,131.44 395.09,129.97 395.44,128.51 395.79,127.04 396.14,125.57 396.49,124.11 396.83,122.64 397.17,121.17 397.52,119.71 397.85,118.24 398.19,116.77 398.53,115.30 398.86,113.83 399.19,112.37 399.52,110.90 399.85,109.43 400.17,107.96 400.50,106.49 400.82,105.02 401.14,103.55 401.46,102.08 401.78,100.61 402.09,99.14 402.40,97.66 402.72,96.19 403.03,94.72 403.33,93.25 403.64,91.78 403.94,90.30 404.25,88.83 404.55,87.35 404.85,85.88 405.14,84.41 405.44,82.93 405.73,81.46 406.03,79.98 406.32,78.50 406.61,77.03 406.89,75.55 407.18,74.07 407.46,72.59 407.75,71.12 408.03,69.64 408.31,68.16 408.58,66.68 408.86,65.20 409.13,63.72 409.41,62.23 409.68,60.75 409.95,59.27 410.21,57.79 410.48,56.30 410.74,54.82 411.01,53.33 411.27,51.85 411.53,50.36 411.79,48.88 412.04,47.39 412.30,45.90 412.55,44.41 412.80,42.93 413.05,41.44 413.30,39.95 413.55,38.46 413.80,36.97 414.04,35.47 414.29,33.98 414.53,32.49 414.77,30.99 415.01,29.50" stroke="#1c921c" stroke-width="1.45"/>
<path d="M303.80,29.49 304.08,30.99 304.36,32.49 304.64,33.98 304.90,35.48 305.17,36.97 305.43,38.46 305.69,39.96 305.95,41.45 306.20,42.94 306.45,44.43 306.70,45.93 306.94,47.42 307.19,48.91 307.43,50.40 307.67,51.88 307.91,53.37 308.14,54.86 308.38,56.35 308.61,57.83 308.85,59.32 309.08,60.81 309.31,62.29 309.55,63.77 309.78,65.26 310.01,66.74 310.25,68.22 310.48,69.71 310.72,71.19 310.96,72.67 311.19,74.15 311.43,75.63 311.67,77.11 311.92,78.59 312.16,80.06 312.41,81.54 312.66,83.02 312.91,84.50 313.17,85.97 313.43,87.45 313.69,88.92 313.96,90.40 314.23,91.87 314.50,93.34 314.78,94.81 315.06,96.29 315.34,97.76 315.64,99.23 315.93,100.70 316.23,102.17 316.54,103.64 316.85,105.11 317.16,106.57 317.49,108.04 317.81,109.51 318.14,110.97 318.48,112.44 318.81,113.91 319.16,115.37 319.51,116.83 319.86,118.30 320.22,119.76 320.58,121.22 320.94,122.68 321.31,124.15 321.69,125.61 322.07,127.07 322.45,128.53 322.84,129.98 323.23,131.44 323.62,132.90 324.02,134.36 324.42,135.81 324.83,137.27 325.24,138.73 325.65,140.18 326.07,141.63 326.49,143.09 326.92,144.54 327.35,145.99 327.78,147.45 328.21,148.90 328.65,150.35 329.09,151.80 329.54,153.25 329.99,154.70 330.44,156.15 330.89,157.59 331.35,159.04 331.81,160.49 332.28,161.94 332.74,163.38 333.21,164.83 333.69,166.27 334.17,167.71 334.66,169.15 335.15,170.59 335.66,172.02 336.17,173.46 336.70,174.88 337.24,176.31 337.80,177.72 338.37,179.14 338.96,180.54 339.57,181.94 340.19,183.33 340.84,184.72 341.51,186.10 342.21,187.47 342.93,188.83 343.67,190.18 344.45,191.51 345.26,192.82 346.11,194.08 347.02,195.29 347.98,196.41 349.00,197.45 350.09,198.38 351.25,199.19 352.50,199.86 353.83,200.39 355.23,200.76 356.66,200.98 358.10,201.05 359.54,200.97 360.95,200.73 362.30,200.34 363.57,199.80 364.77,199.12 365.90,198.31 366.97,197.39 367.98,196.38 368.95,195.29 369.89,194.15 370.80,192.97 371.69,191.76 372.56,190.54 373.42,189.30 374.26,188.05 375.09,186.78 375.90,185.50 376.69,184.20 377.46,182.90 378.22,181.57 378.95,180.24 379.67,178.90 380.37,177.54 381.04,176.18 381.70,174.80 382.33,173.42 382.94,172.03 383.53,170.63 384.10,169.22 384.64,167.80 385.16,166.38 385.66,164.95 386.14,163.51 386.60,162.07 387.05,160.62 387.48,159.17 387.89,157.72 388.30,156.26 388.69,154.80 389.08,153.34 389.45,151.87 389.82,150.41 390.19,148.94 390.55,147.47 390.91,146.01 391.27,144.54 391.63,143.07 391.99,141.60 392.35,140.14 392.70,138.67 393.05,137.21 393.40,135.74 393.75,134.27 394.10,132.81 394.44,131.34 394.79,129.87 395.13,128.41 395.47,126.94 395.81,125.47 396.15,124.01 396.48,122.54 396.82,121.07 397.15,119.61 397.48,118.14 397.81,116.67 398.14,115.20 398.47,113.74 398.79,112.27 399.12,110.80 399.44,109.33 399.76,107.87 400.08,106.40 400.40,104.93 400.71,103.46 401.03,101.99 401.34,100.52 401.65,99.05 401.96,97.58 402.27,96.11 402.58,94.64 402.89,93.17 403.19,91.70 403.50,90.23 403.80,88.76 404.10,87.29 404.40,85.81 404.70,84.34 404.99,82.87 405.29,81.39 405.58,79.92 405.87,78.45 406.16,76.97 406.45,75.50 406.74,74.02 407.03,72.55 407.32,71.07 407.60,69.59 407.88,68.12 408.17,66.64 408.45,65.16 408.72,63.68 409.00,62.20 409.28,60.72 409.56,59.24 409.83,57.76 410.10,56.28 410.37,54.80 410.64,53.31 410.91,51.83 411.18,50.35 411.45,48.86 411.71,47.38 411.98,45.89 412.24,44.40 412.50,42.92 412.76,41.43 413.02,39.94 413.28,38.45 413.54,36.96 413.80,35.47 414.05,33.98 414.30,32.49 414.56,30.99 414.81,29.50" stroke="#e3742c" stroke-width="1.45"/>
<path d="M310.30,29.50 310.53,31.00 310.75,32.50 310.98,34.00 311.21,35.50 311.43,37.00 311.66,38.50 311.89,40.00 312.11,41.50 312.34,42.99 312.57,44.49 312.80,45.98 313.03,47.47 313.25,48.97 313.49,50.46 313.72,51.95 313.95,53.44 314.18,54.93 314.41,56.42 314.65,57.90 314.89,59.39 315.12,60.88 315.36,62.36 315.60,63.85 315.84,65.33 316.08,66.81 316.33,68.29 316.57,69.78 316.82,71.26 317.07,72.74 317.32,74.22 317.57,75.69 317.83,77.17 318.08,78.65 318.34,80.13 318.60,81.60 318.86,83.08 319.13,84.55 319.39,86.03 319.66,87.50 319.94,88.97 320.21,90.45 320.49,91.92 320.76,93.39 321.05,94.86 321.33,96.33 321.62,97.80 321.91,99.27 322.20,100.74 322.50,102.21 322.80,103.67 323.10,105.14 323.41,106.61 323.71,108.07 324.03,109.54 324.34,111.01 324.66,112.47 324.98,113.94 325.31,115.40 325.64,116.86 325.97,118.33 326.31,119.79 326.65,121.25 326.99,122.72 327.34,124.18 327.70,125.64 328.05,127.10 328.41,128.56 328.77,130.03 329.14,131.49 329.51,132.95 329.88,134.41 330.26,135.87 330.64,137.33 331.02,138.79 331.41,140.25 331.79,141.70 332.18,143.16 332.58,144.62 332.97,146.08 333.37,147.54 333.77,149.00 334.17,150.45 334.57,151.91 334.98,153.37 335.39,154.83 335.79,156.29 336.20,157.74 336.62,159.20 337.03,160.66 337.44,162.12 337.86,163.57 338.28,165.03 338.69,166.49 339.11,167.94 339.53,169.40 339.95,170.86 340.37,172.32 340.80,173.77 341.22,175.23 341.64,176.69 342.06,178.14 342.48,179.60 342.91,181.06 343.33,182.52 343.76,183.97 344.20,185.43 344.65,186.88 345.10,188.33 345.57,189.78 346.05,191.22 346.55,192.66 347.07,194.09 347.61,195.53 348.17,196.95 348.75,198.37 349.36,199.79 350.00,201.19 350.67,202.59 351.37,203.99 352.11,205.37 352.88,206.75 353.69,208.11 354.54,209.43 355.43,210.69 356.36,211.86 357.35,212.91 358.38,213.81 359.45,214.53 360.59,215.05 361.77,215.35 363.00,215.41 364.26,215.26 365.53,214.91 366.80,214.39 368.05,213.71 369.27,212.89 370.45,211.94 371.60,210.90 372.71,209.77 373.77,208.57 374.79,207.33 375.75,206.06 376.65,204.78 377.50,203.48 378.31,202.18 379.06,200.86 379.78,199.54 380.45,198.21 381.08,196.86 381.69,195.51 382.26,194.15 382.80,192.78 383.32,191.41 383.82,190.02 384.30,188.63 384.77,187.24 385.22,185.83 385.67,184.42 386.11,183.00 386.55,181.58 386.99,180.15 387.42,178.72 387.85,177.28 388.28,175.83 388.70,174.38 389.12,172.93 389.54,171.47 389.95,170.01 390.36,168.55 390.76,167.08 391.17,165.61 391.56,164.14 391.96,162.67 392.35,161.19 392.74,159.71 393.12,158.23 393.50,156.75 393.87,155.27 394.24,153.79 394.61,152.31 394.97,150.82 395.33,149.34 395.69,147.86 396.04,146.38 396.38,144.90 396.73,143.42 397.06,141.94 397.40,140.46 397.73,138.98 398.06,137.51 398.38,136.03 398.70,134.55 399.02,133.07 399.34,131.60 399.65,130.12 399.96,128.64 400.26,127.17 400.57,125.69 400.87,124.22 401.16,122.74 401.46,121.27 401.75,119.79 402.04,118.32 402.33,116.84 402.61,115.37 402.89,113.90 403.17,112.42 403.45,110.95 403.73,109.47 404.00,108.00 404.28,106.53 404.55,105.05 404.82,103.58 405.09,102.10 405.35,100.63 405.62,99.16 405.88,97.68 406.14,96.21 406.40,94.73 406.66,93.26 406.92,91.79 407.18,90.31 407.44,88.84 407.70,87.36 407.95,85.89 408.21,84.41 408.46,82.93 408.72,81.46 408.97,79.98 409.22,78.51 409.48,77.03 409.73,75.55 409.99,74.07 410.24,72.60 410.49,71.12 410.75,69.64 411.00,68.16 411.26,66.68 411.51,65.20 411.77,63.72 412.03,62.24 412.28,60.76 412.54,59.27 412.80,57.79 413.06,56.31 413.32,54.83 413.58,53.34 413.85,51.86 414.11,50.37 414.38,48.88 414.65,47.40 414.92,45.91 415.19,44.42 415.46,42.93 415.73,41.44 416.01,39.95 416.29,38.46 416.57,36.97 416.85,35.48 417.14,33.98 417.42,32.49 417.71,30.99 418.00,29.50" stroke="#857a26" stroke-width="1.45"/>
</g>
<path d="M276.40,232.90v-2M276.40,29.40v2M290.57,232.90v-2M290.57,29.40v2M304.75,232.90v-2M304.75,29.40v2M318.92,232.90v-2M318.92,29.40v2M333.10,232.90v-2M333.10,29.40v2M347.27,232.90v-2M347.27,29.40v2M361.45,232.90v-2M361.45,29.40v2M375.62,232.90v-2M375.62,29.40v2M389.80,232.90v-2M389.80,29.40v2M403.97,232.90v-2M403.97,29.40v2M418.15,232.90v-2M418.15,29.40v2M432.33,232.90v-2M432.33,29.40v2M446.50,232.90v-2M446.50,29.40v2M276.40,29.40h2M446.50,29.40h-2M276.40,63.32h2M446.50,63.32h-2M276.40,97.23h2M446.50,97.23h-2M276.40,131.15h2M446.50,131.15h-2M276.40,165.07h2M446.50,165.07h-2M276.40,198.98h2M446.50,198.98h-2M276.40,232.90h2M446.50,232.90h-2" stroke="#4a4a4a" stroke-width="0.9" fill="none"/>
<rect x="276.40" y="29.40" width="170.10" height="203.50" fill="none" stroke="#4a4a4a" stroke-width="1"/>
<text x="276.40" y="242.5" font-size="9.1" text-anchor="middle" fill="#222">2.4</text>
<text x="304.75" y="242.5" font-size="9.1" text-anchor="middle" fill="#222">2.6</text>
<text x="333.10" y="242.5" font-size="9.1" text-anchor="middle" fill="#222">2.8</text>
<text x="361.45" y="242.5" font-size="9.1" text-anchor="middle" fill="#222">3.0</text>
<text x="389.80" y="242.5" font-size="9.1" text-anchor="middle" fill="#222">3.2</text>
<text x="418.15" y="242.5" font-size="9.1" text-anchor="middle" fill="#222">3.4</text>
<text x="446.50" y="242.5" font-size="9.1" text-anchor="middle" fill="#222">3.6</text>
<text x="273.20" y="32.70" font-size="9.3" text-anchor="end" fill="#222">-0.008</text>
<text x="273.20" y="100.53" font-size="9.3" text-anchor="end" fill="#222">-0.010</text>
<text x="273.20" y="168.37" font-size="9.3" text-anchor="end" fill="#222">-0.012</text>
<text x="273.20" y="236.20" font-size="9.3" text-anchor="end" fill="#222">-0.014</text>
<text x="361.15" y="254.7" font-size="12.8" text-anchor="middle" fill="#111">ρ<tspan font-size="11.5" dy="-1.0" dx="0.3">*</tspan></text>
<text transform="translate(249.60,130.55) rotate(-90)" font-size="12.4" letter-spacing="0.5" text-anchor="middle" fill="#111">(u-u<tspan font-size="8.5" dy="3">Tri</tspan><tspan dy="-3">)/ε</tspan></text>
<text transform="translate(404.80,226.00) scale(0.93,1)" font-size="14" fill="#111">α=2.2</text>
<text x="237.60" y="11.8" font-size="15.7" fill="#231f20">B</text>
<clipPath id="clipC"><rect x="509.40" y="30.40" width="169.10" height="202.70"/></clipPath>
<rect x="602.20" y="30.40" width="61.00" height="202.70" fill="#f8dfe0"/>
<g clip-path="url(#clipC)" fill="none" stroke-linejoin="round">
<path d="M509.40,88.09 509.62,89.62 509.85,91.14 510.10,92.65 510.36,94.16 510.64,95.66 510.93,97.16 511.23,98.65 511.55,100.14 511.88,101.62 512.22,103.10 512.57,104.58 512.93,106.05 513.31,107.51 513.69,108.97 514.09,110.43 514.49,111.89 514.90,113.34 515.33,114.78 515.76,116.23 516.19,117.67 516.64,119.10 517.09,120.54 517.55,121.97 518.02,123.40 518.49,124.82 518.97,126.24 519.45,127.66 519.94,129.08 520.43,130.50 520.92,131.91 521.42,133.32 521.92,134.73 522.43,136.14 522.93,137.55 523.44,138.96 523.95,140.36 524.47,141.76 524.98,143.16 525.50,144.57 526.02,145.97 526.54,147.37 527.06,148.76 527.59,150.16 528.11,151.56 528.64,152.96 529.17,154.36 529.71,155.76 530.24,157.16 530.78,158.55 531.31,159.95 531.85,161.35 532.40,162.75 532.94,164.16 533.49,165.56 534.04,166.96 534.60,168.37 535.17,169.77 535.74,171.18 536.31,172.59 536.90,174.00 537.49,175.42 538.09,176.83 538.70,178.25 539.32,179.67 539.95,181.09 540.59,182.51 541.24,183.93 541.91,185.35 542.59,186.77 543.28,188.17 543.99,189.57 544.72,190.96 545.46,192.33 546.22,193.69 547.00,195.03 547.81,196.35 548.63,197.65 549.47,198.93 550.34,200.19 551.23,201.41 552.14,202.61 553.08,203.77 554.05,204.91 555.05,206.00 556.07,207.06 557.12,208.08 558.20,209.06 559.31,210.00 560.45,210.89 561.63,211.74 562.83,212.53 564.08,213.27 565.35,213.96 566.67,214.60 568.01,215.16 569.38,215.66 570.77,216.07 572.17,216.39 573.59,216.60 575.02,216.70 576.44,216.68 577.86,216.54 579.27,216.25 580.67,215.82 582.05,215.26 583.41,214.60 584.74,213.87 586.04,213.07 587.30,212.22 588.54,211.32 589.74,210.36 590.92,209.37 592.06,208.33 593.18,207.26 594.27,206.15 595.34,205.01 596.38,203.84 597.39,202.65 598.38,201.44 599.35,200.22 600.29,198.98 601.22,197.73 602.12,196.47 603.00,195.21 603.86,193.95 604.70,192.67 605.52,191.40 606.33,190.11 607.12,188.83 607.89,187.53 608.65,186.23 609.39,184.93 610.12,183.62 610.84,182.31 611.55,180.99 612.24,179.67 612.92,178.35 613.59,177.02 614.26,175.68 614.91,174.35 615.56,173.01 616.19,171.66 616.83,170.31 617.45,168.96 618.08,167.60 618.70,166.25 619.31,164.88 619.92,163.52 620.53,162.15 621.14,160.78 621.75,159.41 622.36,158.03 622.97,156.65 623.58,155.27 624.19,153.89 624.81,152.51 625.42,151.12 626.04,149.73 626.65,148.34 627.26,146.95 627.87,145.55 628.48,144.15 629.08,142.76 629.68,141.35 630.28,139.95 630.87,138.55 631.46,137.14 632.05,135.73 632.62,134.32 633.19,132.91 633.76,131.50 634.31,130.08 634.86,128.66 635.40,127.25 635.93,125.83 636.45,124.40 636.96,122.98 637.47,121.56 637.97,120.13 638.45,118.70 638.94,117.27 639.41,115.84 639.88,114.41 640.35,112.98 640.81,111.55 641.27,110.11 641.72,108.68 642.17,107.24 642.61,105.80 643.06,104.36 643.50,102.92 643.94,101.48 644.37,100.04 644.81,98.60 645.24,97.15 645.68,95.71 646.11,94.26 646.54,92.82 646.97,91.37 647.39,89.92 647.82,88.47 648.24,87.02 648.67,85.57 649.09,84.12 649.51,82.67 649.93,81.22 650.36,79.77 650.77,78.32 651.19,76.87 651.61,75.41 652.03,73.96 652.45,72.51 652.87,71.06 653.28,69.60 653.70,68.15 654.12,66.69 654.53,65.24 654.95,63.79 655.37,62.33 655.78,60.88 656.20,59.42 656.62,57.97 657.04,56.51 657.45,55.06 657.87,53.61 658.29,52.15 658.71,50.70 659.13,49.25 659.55,47.79 659.98,46.34 660.40,44.89 660.82,43.44 661.25,41.99 661.68,40.54 662.10,39.09 662.53,37.64 662.96,36.19 663.39,34.74 663.83,33.29 664.26,31.85 664.70,30.40" stroke="#ff66ff" stroke-width="1.55" stroke-dasharray="2.9 2.1"/>
<path d="M555.40,31.81 556.76,32.34 558.12,32.91 559.48,33.51 560.83,34.16 562.18,34.84 563.53,35.56 564.86,36.31 566.18,37.09 567.48,37.91 568.77,38.76 570.03,39.64 571.27,40.55 572.48,41.49 573.67,42.46 574.82,43.45 575.95,44.47 577.06,45.52 578.13,46.59 579.18,47.68 580.21,48.79 581.20,49.93 582.17,51.08 583.12,52.26 584.03,53.45 584.92,54.66 585.79,55.88 586.63,57.12 587.45,58.37 588.24,59.64 589.00,60.92 589.74,62.21 590.46,63.51 591.16,64.82 591.84,66.14 592.50,67.47 593.14,68.81 593.77,70.16 594.38,71.52 594.98,72.89 595.56,74.26 596.14,75.64 596.71,77.03 597.26,78.42 597.82,79.82 598.36,81.22 598.91,82.63 599.45,84.05 599.99,85.46 600.53,86.88 601.07,88.31 601.61,89.73 602.15,91.16 602.70,92.59 603.26,94.02 603.81,95.46 604.37,96.89 604.94,98.32 605.50,99.75 606.07,101.18 606.65,102.61 607.22,104.04 607.80,105.47 608.38,106.89 608.96,108.31 609.55,109.73 610.14,111.14 610.73,112.55 611.33,113.95 611.92,115.35 612.52,116.74 613.12,118.13 613.73,119.50 614.33,120.88 614.94,122.24 615.55,123.60 616.17,124.95 616.79,126.29 617.42,127.63 618.05,128.96 618.69,130.29 619.34,131.62 620.00,132.94 620.67,134.26 621.36,135.58 622.05,136.89 622.76,138.21 623.49,139.52 624.23,140.84 624.99,142.15 625.77,143.47 626.57,144.79 627.38,146.11 628.22,147.44 629.08,148.76 629.97,150.10 630.88,151.43 631.81,152.76 632.77,154.06 633.76,155.33 634.78,156.55 635.82,157.70 636.90,158.79 638.01,159.78 639.15,160.67 640.32,161.45 641.53,162.09 642.77,162.60 644.05,162.95 645.37,163.13 646.73,163.13 648.11,162.96 649.50,162.63 650.89,162.16 652.26,161.55 653.60,160.82 654.90,159.99 656.16,159.06 657.37,158.05 658.55,156.97 659.67,155.83 660.75,154.66 661.79,153.46 662.78,152.24 663.72,151.01 664.62,149.77 665.48,148.52 666.32,147.26 667.13,145.99 667.92,144.72 668.69,143.44 669.45,142.15 670.20,140.86 670.95,139.56 671.70,138.26 672.44,136.96 673.19,135.65 673.94,134.35 674.70,133.04 675.45,131.73 676.21,130.42 676.97,129.11 677.73,127.81 678.50,126.50" stroke="#941414" stroke-width="1.55" stroke-dasharray="2.9 2.1"/>
<path d="M600.00,103.60 600.58,105.08 601.14,106.55 601.70,108.01 602.24,109.46 602.77,110.90 603.30,112.33 603.81,113.76 604.32,115.17 604.83,116.58 605.34,117.99 605.84,119.39 606.34,120.78 606.85,122.17 607.36,123.56 607.87,124.94 608.39,126.32 608.91,127.69 609.45,129.06 609.99,130.43 610.55,131.80 611.12,133.17 611.71,134.54 612.31,135.91 612.93,137.28 613.57,138.65 614.23,140.02 614.91,141.39 615.62,142.77 616.35,144.15 617.11,145.53 617.90,146.92 618.71,148.29 619.56,149.65 620.44,150.99 621.36,152.29 622.32,153.56 623.32,154.79 624.36,155.97 625.45,157.08 626.58,158.13 627.76,159.11 629.00,160.01 630.28,160.82 631.62,161.53 633.00,162.15 634.42,162.64 635.84,163.02 637.27,163.26 638.68,163.36 640.06,163.31 641.41,163.12 642.72,162.78 644.00,162.32 645.25,161.74 646.46,161.05 647.65,160.27 648.80,159.40 649.93,158.45 651.03,157.43 652.09,156.36 653.14,155.23 654.15,154.06 655.14,152.85 656.11,151.60 657.05,150.32 657.96,149.02 658.86,147.71 659.73,146.38 660.58,145.05 661.42,143.72 662.23,142.38 663.02,141.05 663.79,139.72 664.55,138.38 665.29,137.05 666.02,135.71 666.73,134.37 667.42,133.03 668.10,131.69 668.77,130.34 669.43,129.00 670.07,127.64 670.71,126.29 671.33,124.93 671.95,123.57 672.55,122.20 673.15,120.83 673.75,119.45 674.33,118.07 674.91,116.68 675.49,115.29 676.06,113.89 676.63,112.49 677.20,111.07 677.76,109.66 678.33,108.23 678.89,106.80" stroke="#27858a" stroke-width="1.55" stroke-dasharray="2.9 2.1"/>
<path d="M599.60,103.30 600.18,104.78 600.74,106.25 601.30,107.71 601.84,109.16 602.37,110.60 602.90,112.03 603.41,113.46 603.92,114.87 604.43,116.28 604.94,117.69 605.44,119.09 605.94,120.48 606.45,121.87 606.96,123.26 607.47,124.64 607.99,126.02 608.51,127.39 609.05,128.76 609.59,130.13 610.15,131.50 610.72,132.87 611.31,134.24 611.91,135.61 612.53,136.98 613.17,138.35 613.83,139.72 614.51,141.09 615.22,142.47 615.95,143.85 616.71,145.23 617.50,146.62 618.31,147.99 619.16,149.35 620.04,150.69 620.96,151.99 621.92,153.26 622.92,154.49 623.96,155.67 625.05,156.78 626.18,157.83 627.36,158.81 628.60,159.71 629.88,160.52 631.22,161.23 632.60,161.85 634.02,162.34 635.44,162.72 636.87,162.96 638.28,163.06 639.66,163.01 641.01,162.82 642.32,162.48 643.60,162.02 644.85,161.44 646.06,160.75 647.25,159.97 648.40,159.10 649.53,158.15 650.63,157.13 651.69,156.06 652.74,154.93 653.75,153.76 654.74,152.55 655.71,151.30 656.65,150.02 657.56,148.72 658.46,147.41 659.33,146.08 660.18,144.75 661.02,143.42 661.83,142.08 662.62,140.75 663.39,139.42 664.15,138.08 664.89,136.75 665.62,135.41 666.33,134.07 667.02,132.73 667.70,131.39 668.37,130.04 669.03,128.70 669.67,127.34 670.31,125.99 670.93,124.63 671.55,123.27 672.15,121.90 672.75,120.53 673.35,119.15 673.93,117.77 674.51,116.38 675.09,114.99 675.66,113.59 676.23,112.19 676.80,110.77 677.36,109.36 677.93,107.93 678.49,106.50" stroke="#1cabb9" stroke-width="1.55" stroke-dasharray="2.9 2.1"/>
<path d="M550.90,30.41 551.17,31.86 551.44,33.32 551.72,34.79 552.01,36.25 552.30,37.71 552.60,39.18 552.90,40.65 553.21,42.12 553.52,43.59 553.84,45.06 554.16,46.53 554.48,48.01 554.81,49.49 555.15,50.96 555.48,52.44 555.82,53.92 556.17,55.40 556.51,56.88 556.86,58.37 557.21,59.85 557.56,61.33 557.91,62.82 558.27,64.30 558.63,65.79 558.98,67.27 559.34,68.76 559.70,70.25 560.06,71.73 560.42,73.22 560.78,74.71 561.14,76.20 561.50,77.69 561.86,79.17 562.21,80.66 562.57,82.15 562.92,83.64 563.27,85.12 563.62,86.61 563.97,88.10 564.32,89.58 564.66,91.07 565.00,92.56 565.34,94.04 565.68,95.52 566.02,97.01 566.36,98.49 566.69,99.97 567.03,101.45 567.37,102.93 567.70,104.41 568.04,105.89 568.38,107.36 568.72,108.84 569.06,110.31 569.40,111.78 569.74,113.26 570.09,114.72 570.43,116.19 570.79,117.66 571.14,119.12 571.50,120.59 571.86,122.05 572.22,123.51 572.59,124.96 572.96,126.42 573.34,127.87 573.72,129.33 574.11,130.77 574.50,132.22 574.90,133.67 575.31,135.11 575.72,136.55 576.14,137.99 576.56,139.42 576.99,140.85 577.43,142.28 577.88,143.71 578.33,145.14 578.79,146.56 579.26,147.98 579.74,149.39 580.23,150.80 580.73,152.21 581.24,153.62 581.75,155.03 582.28,156.43 582.81,157.83 583.35,159.22 583.91,160.62 584.47,162.01 585.04,163.41 585.61,164.80 586.20,166.19 586.79,167.58 587.40,168.97 588.01,170.36 588.63,171.74 589.26,173.13 589.89,174.52 590.54,175.91 591.19,177.30 591.85,178.69 592.52,180.08 593.19,181.48 593.88,182.87 594.57,184.27 595.27,185.67 595.97,187.07 596.69,188.47 597.41,189.86 598.15,191.25 598.91,192.63 599.68,193.99 600.47,195.33 601.29,196.65 602.13,197.93 603.00,199.19 603.91,200.40 604.84,201.58 605.81,202.71 606.82,203.79 607.87,204.81 608.96,205.78 610.10,206.69 611.28,207.53 612.52,208.29 613.81,208.99 615.15,209.60 616.53,210.11 617.95,210.53 619.39,210.83 620.85,211.00 622.32,211.03 623.79,210.91 625.26,210.66 626.71,210.28 628.14,209.79 629.53,209.20 630.89,208.53 632.20,207.79 633.46,206.98 634.66,206.12 635.82,205.20 636.94,204.23 638.01,203.21 639.04,202.14 640.04,201.03 640.99,199.88 641.92,198.69 642.81,197.47 643.68,196.22 644.52,194.94 645.33,193.63 646.12,192.31 646.89,190.97 647.65,189.61 648.39,188.24 649.12,186.86 649.84,185.48 650.55,184.09 651.25,182.71 651.95,181.32 652.64,179.93 653.32,178.55 654.00,177.16 654.67,175.78 655.33,174.39 655.98,173.00 656.63,171.62 657.26,170.23 657.89,168.84 658.51,167.45 659.12,166.06 659.72,164.67 660.31,163.28 660.89,161.89 661.46,160.50 662.01,159.10 662.56,157.71 663.10,156.31 663.62,154.91 664.14,153.51 664.64,152.11 665.13,150.71 665.61,149.31 666.09,147.90 666.56,146.49 667.02,145.08 667.47,143.67 667.92,142.26 668.36,140.84 668.80,139.42 669.24,138.00 669.67,136.58 670.11,135.15 670.54,133.73 670.97,132.30 671.40,130.86 671.84,129.43 672.27,127.99 672.71,126.55 673.16,125.10 673.61,123.66 674.06,122.20 674.52,120.75 674.98,119.29 675.46,117.83 675.94,116.37 676.43,114.90 676.93,113.43 677.44,111.96 677.97,110.48 678.50,108.99" stroke="#205e90" stroke-width="1.45"/>
<path d="M550.70,30.41 550.97,31.86 551.24,33.31 551.52,34.77 551.80,36.22 552.09,37.68 552.39,39.15 552.69,40.61 552.99,42.07 553.31,43.54 553.62,45.01 553.94,46.48 554.27,47.95 554.60,49.42 554.93,50.89 555.27,52.37 555.61,53.84 555.95,55.32 556.29,56.80 556.64,58.28 556.99,59.76 557.34,61.24 557.70,62.72 558.05,64.20 558.41,65.69 558.77,67.17 559.12,68.66 559.48,70.14 559.84,71.63 560.20,73.11 560.56,74.60 560.92,76.08 561.28,77.57 561.64,79.05 561.99,80.54 562.35,82.03 562.70,83.51 563.05,85.00 563.40,86.48 563.75,87.97 564.09,89.45 564.43,90.93 564.77,92.42 565.11,93.90 565.45,95.38 565.78,96.86 566.12,98.34 566.45,99.82 566.78,101.30 567.12,102.78 567.45,104.25 567.78,105.73 568.12,107.20 568.45,108.67 568.79,110.14 569.13,111.61 569.47,113.08 569.81,114.55 570.16,116.01 570.51,117.48 570.86,118.94 571.22,120.40 571.57,121.85 571.94,123.31 572.31,124.76 572.68,126.21 573.05,127.66 573.44,129.11 573.82,130.55 574.22,131.99 574.62,133.43 575.02,134.87 575.44,136.30 575.86,137.73 576.28,139.16 576.72,140.59 577.16,142.01 577.61,143.43 578.07,144.85 578.54,146.26 579.01,147.67 579.50,149.08 580.00,150.49 580.50,151.89 581.02,153.28 581.54,154.68 582.08,156.07 582.62,157.46 583.17,158.85 583.74,160.23 584.31,161.62 584.89,163.00 585.49,164.38 586.09,165.76 586.70,167.13 587.32,168.51 587.94,169.89 588.58,171.27 589.23,172.64 589.88,174.02 590.54,175.40 591.21,176.78 591.89,178.16 592.58,179.54 593.28,180.92 593.98,182.30 594.70,183.69 595.42,185.08 596.14,186.47 596.88,187.86 597.63,189.24 598.40,190.62 599.18,191.98 599.98,193.32 600.80,194.65 601.64,195.95 602.51,197.21 603.41,198.45 604.33,199.64 605.29,200.79 606.29,201.90 607.32,202.95 608.39,203.95 609.50,204.89 610.66,205.77 611.86,206.58 613.11,207.31 614.41,207.97 615.76,208.54 617.14,209.02 618.56,209.39 619.99,209.64 621.44,209.76 622.90,209.75 624.35,209.59 625.80,209.30 627.22,208.89 628.63,208.38 629.99,207.77 631.32,207.08 632.60,206.33 633.83,205.51 635.02,204.63 636.16,203.70 637.26,202.72 638.31,201.68 639.33,200.60 640.32,199.48 641.26,198.32 642.18,197.12 643.07,195.89 643.93,194.62 644.77,193.34 645.58,192.02 646.37,190.69 647.14,189.34 647.90,187.98 648.64,186.60 649.36,185.22 650.08,183.84 650.79,182.45 651.49,181.06 652.18,179.68 652.87,178.29 653.55,176.91 654.22,175.52 654.88,174.14 655.53,172.75 656.18,171.37 656.81,169.98 657.44,168.60 658.06,167.21 658.67,165.83 659.27,164.44 659.86,163.06 660.44,161.67 661.01,160.28 661.57,158.89 662.12,157.50 662.66,156.11 663.19,154.72 663.71,153.32 664.22,151.93 664.72,150.53 665.21,149.14 665.69,147.74 666.17,146.33 666.64,144.93 667.10,143.53 667.55,142.12 668.00,140.71 668.45,139.30 668.89,137.89 669.33,136.47 669.77,135.05 670.20,133.63 670.64,132.21 671.07,130.78 671.50,129.35 671.94,127.92 672.38,126.48 672.82,125.04 673.26,123.60 673.70,122.15 674.15,120.71 674.61,119.25 675.07,117.80 675.53,116.34 676.01,114.87 676.49,113.41 676.98,111.93 677.48,110.46 677.98,108.98 678.50,107.49" stroke="#7820b0" stroke-width="1.45"/>
<path d="M558.90,30.40 559.09,31.89 559.29,33.38 559.50,34.88 559.72,36.37 559.94,37.86 560.18,39.35 560.43,40.84 560.68,42.32 560.94,43.81 561.21,45.30 561.49,46.78 561.77,48.27 562.06,49.75 562.36,51.24 562.66,52.72 562.97,54.21 563.28,55.69 563.60,57.17 563.93,58.65 564.26,60.13 564.59,61.61 564.92,63.09 565.26,64.57 565.61,66.04 565.95,67.52 566.30,69.00 566.65,70.47 567.00,71.95 567.36,73.42 567.71,74.89 568.07,76.37 568.42,77.84 568.78,79.31 569.13,80.78 569.49,82.25 569.84,83.72 570.19,85.19 570.55,86.65 570.89,88.12 571.24,89.59 571.59,91.05 571.93,92.52 572.27,93.98 572.62,95.44 572.96,96.91 573.30,98.37 573.64,99.83 573.99,101.29 574.33,102.75 574.68,104.21 575.02,105.67 575.37,107.12 575.73,108.58 576.08,110.04 576.44,111.49 576.80,112.95 577.17,114.40 577.54,115.85 577.92,117.30 578.30,118.76 578.69,120.21 579.08,121.66 579.48,123.11 579.88,124.55 580.30,126.00 580.72,127.45 581.14,128.90 581.58,130.34 582.03,131.79 582.48,133.23 582.94,134.67 583.41,136.12 583.90,137.56 584.39,139.00 584.88,140.44 585.38,141.88 585.89,143.32 586.40,144.75 586.91,146.19 587.43,147.63 587.95,149.06 588.47,150.50 588.98,151.93 589.50,153.36 590.02,154.79 590.55,156.22 591.08,157.65 591.61,159.07 592.16,160.49 592.71,161.90 593.26,163.31 593.83,164.72 594.41,166.12 595.00,167.51 595.61,168.90 596.23,170.28 596.86,171.65 597.52,173.02 598.18,174.37 598.87,175.72 599.58,177.06 600.31,178.39 601.06,179.71 601.83,181.02 602.63,182.32 603.45,183.60 604.30,184.88 605.18,186.14 606.09,187.39 607.02,188.63 607.99,189.85 608.98,191.03 610.01,192.18 611.07,193.28 612.17,194.32 613.29,195.29 614.45,196.19 615.65,196.99 616.88,197.71 618.15,198.31 619.45,198.81 620.79,199.17 622.17,199.41 623.58,199.50 625.02,199.47 626.47,199.31 627.91,199.04 629.35,198.65 630.76,198.16 632.14,197.57 633.48,196.89 634.78,196.13 636.03,195.28 637.23,194.37 638.39,193.39 639.49,192.35 640.55,191.26 641.57,190.12 642.55,188.93 643.50,187.71 644.41,186.45 645.28,185.16 646.13,183.85 646.96,182.52 647.76,181.17 648.54,179.83 649.30,178.47 650.05,177.12 650.78,175.77 651.50,174.41 652.20,173.06 652.88,171.70 653.55,170.34 654.22,168.98 654.86,167.61 655.50,166.25 656.13,164.88 656.75,163.52 657.36,162.15 657.96,160.78 658.55,159.40 659.14,158.03 659.72,156.65 660.30,155.27 660.87,153.89 661.44,152.51 662.01,151.13 662.57,149.74 663.13,148.35 663.68,146.96 664.23,145.57 664.78,144.17 665.32,142.77 665.86,141.37 666.40,139.97 666.93,138.56 667.45,137.16 667.97,135.75 668.49,134.33 669.00,132.92 669.50,131.50 670.00,130.08 670.49,128.65 670.98,127.23 671.46,125.80 671.93,124.36 672.40,122.93 672.86,121.49 673.31,120.05 673.76,118.60 674.20,117.15 674.63,115.70 675.05,114.25 675.47,112.79 675.88,111.33 676.28,109.86 676.67,108.39 677.05,106.92 677.43,105.45 677.79,103.97 678.15,102.48 678.50,101.00" stroke="#1c921c" stroke-width="1.45"/>
<path d="M552.70,30.41 553.00,31.86 553.31,33.32 553.61,34.79 553.92,36.25 554.23,37.71 554.55,39.18 554.86,40.65 555.17,42.12 555.49,43.59 555.81,45.06 556.13,46.53 556.45,48.01 556.77,49.48 557.10,50.96 557.42,52.44 557.75,53.92 558.08,55.39 558.41,56.87 558.74,58.36 559.07,59.84 559.41,61.32 559.74,62.80 560.08,64.28 560.42,65.77 560.76,67.25 561.10,68.73 561.44,70.22 561.78,71.70 562.13,73.19 562.47,74.67 562.82,76.16 563.17,77.64 563.52,79.12 563.87,80.61 564.22,82.09 564.57,83.58 564.92,85.06 565.28,86.54 565.63,88.02 565.99,89.50 566.35,90.98 566.71,92.46 567.07,93.94 567.43,95.42 567.79,96.90 568.16,98.37 568.53,99.85 568.90,101.32 569.27,102.79 569.64,104.26 570.02,105.73 570.40,107.20 570.78,108.67 571.16,110.14 571.55,111.60 571.94,113.06 572.34,114.52 572.73,115.98 573.13,117.44 573.54,118.89 573.95,120.35 574.36,121.80 574.77,123.25 575.19,124.70 575.62,126.14 576.05,127.58 576.48,129.02 576.92,130.46 577.36,131.90 577.81,133.33 578.26,134.76 578.72,136.19 579.19,137.61 579.65,139.03 580.13,140.45 580.61,141.87 581.10,143.28 581.59,144.69 582.09,146.10 582.59,147.50 583.10,148.90 583.62,150.30 584.14,151.70 584.67,153.09 585.21,154.48 585.75,155.86 586.30,157.25 586.86,158.63 587.43,160.01 588.00,161.39 588.58,162.77 589.16,164.15 589.75,165.53 590.35,166.92 590.96,168.30 591.57,169.68 592.20,171.07 592.82,172.45 593.46,173.84 594.10,175.23 594.75,176.63 595.41,178.03 596.08,179.43 596.75,180.83 597.43,182.24 598.12,183.66 598.82,185.08 599.53,186.50 600.25,187.91 600.99,189.31 601.74,190.70 602.52,192.06 603.32,193.40 604.15,194.71 605.01,195.99 605.91,197.22 606.84,198.41 607.80,199.55 608.81,200.63 609.86,201.65 610.96,202.61 612.10,203.50 613.30,204.31 614.56,205.04 615.86,205.68 617.20,206.23 618.58,206.65 619.98,206.96 621.40,207.13 622.83,207.16 624.26,207.04 625.69,206.78 627.11,206.40 628.50,205.91 629.87,205.32 631.20,204.65 632.48,203.91 633.73,203.11 634.92,202.24 636.08,201.32 637.20,200.34 638.28,199.31 639.32,198.24 640.33,197.12 641.30,195.96 642.25,194.76 643.16,193.53 644.05,192.27 644.91,190.98 645.74,189.67 646.55,188.34 647.35,186.98 648.12,185.62 648.87,184.24 649.61,182.86 650.33,181.47 651.05,180.09 651.75,178.70 652.43,177.31 653.11,175.92 653.78,174.54 654.43,173.15 655.08,171.77 655.71,170.38 656.34,169.00 656.95,167.61 657.56,166.23 658.15,164.84 658.74,163.45 659.32,162.07 659.89,160.68 660.45,159.29 661.01,157.90 661.56,156.51 662.10,155.12 662.63,153.73 663.16,152.34 663.68,150.94 664.19,149.55 664.70,148.15 665.20,146.75 665.70,145.35 666.19,143.95 666.68,142.54 667.16,141.13 667.64,139.73 668.11,138.31 668.58,136.90 669.05,135.48 669.51,134.07 669.97,132.64 670.43,131.22 670.89,129.79 671.34,128.36 671.79,126.93 672.24,125.49 672.69,124.05 673.14,122.61 673.58,121.17 674.03,119.72 674.47,118.26 674.92,116.80 675.36,115.34 675.81,113.88 676.25,112.41 676.70,110.93 677.15,109.46 677.60,107.97 678.05,106.49 678.50,105.00" stroke="#e3742c" stroke-width="1.45"/>
<path d="M563.50,30.40 563.72,31.91 563.95,33.42 564.18,34.92 564.42,36.43 564.67,37.93 564.92,39.43 565.17,40.92 565.43,42.42 565.70,43.91 565.98,45.41 566.25,46.90 566.54,48.38 566.83,49.87 567.12,51.36 567.43,52.84 567.73,54.32 568.04,55.80 568.36,57.28 568.68,58.76 569.01,60.23 569.34,61.71 569.68,63.18 570.03,64.65 570.38,66.12 570.73,67.59 571.09,69.06 571.45,70.53 571.82,71.99 572.19,73.46 572.57,74.92 572.96,76.38 573.34,77.84 573.73,79.31 574.13,80.77 574.53,82.22 574.93,83.68 575.33,85.14 575.74,86.60 576.15,88.05 576.55,89.51 576.96,90.96 577.37,92.42 577.78,93.87 578.18,95.33 578.59,96.78 579.00,98.23 579.40,99.69 579.80,101.14 580.19,102.59 580.59,104.04 580.98,105.49 581.36,106.95 581.75,108.40 582.12,109.85 582.49,111.30 582.86,112.75 583.22,114.20 583.58,115.66 583.94,117.11 584.31,118.56 584.67,120.01 585.03,121.47 585.40,122.92 585.78,124.37 586.16,125.83 586.54,127.28 586.94,128.74 587.35,130.19 587.76,131.65 588.19,133.11 588.63,134.56 589.09,136.02 589.56,137.48 590.05,138.94 590.54,140.40 591.05,141.85 591.58,143.31 592.11,144.76 592.66,146.22 593.21,147.66 593.78,149.11 594.36,150.55 594.95,151.99 595.54,153.42 596.15,154.85 596.77,156.28 597.39,157.70 598.02,159.11 598.66,160.51 599.30,161.91 599.95,163.30 600.61,164.68 601.27,166.06 601.94,167.42 602.61,168.78 603.29,170.13 603.97,171.47 604.65,172.79 605.34,174.11 606.03,175.41 606.73,176.71 607.44,177.99 608.17,179.25 608.91,180.51 609.68,181.75 610.47,182.98 611.29,184.19 612.14,185.39 613.03,186.57 613.96,187.74 614.92,188.89 615.94,190.02 617.00,191.14 618.12,192.24 619.28,193.30 620.49,194.31 621.73,195.24 623.01,196.07 624.31,196.77 625.62,197.34 626.96,197.74 628.30,197.96 629.64,197.97 630.98,197.76 632.31,197.31 633.63,196.65 634.94,195.81 636.22,194.83 637.49,193.75 638.74,192.60 639.96,191.43 641.15,190.26 642.31,189.12 643.43,188.00 644.52,186.90 645.57,185.79 646.58,184.66 647.54,183.51 648.47,182.34 649.35,181.13 650.19,179.91 651.00,178.66 651.77,177.39 652.51,176.10 653.23,174.80 653.91,173.47 654.57,172.13 655.20,170.77 655.81,169.41 656.40,168.03 656.97,166.63 657.53,165.23 658.07,163.82 658.60,162.41 659.12,160.98 659.64,159.56 660.14,158.13 660.65,156.69 661.15,155.26 661.65,153.83 662.14,152.39 662.63,150.96 663.13,149.52 663.62,148.08 664.10,146.64 664.59,145.21 665.08,143.77 665.56,142.33 666.04,140.89 666.52,139.45 667.00,138.01 667.48,136.57 667.96,135.13 668.44,133.68 668.92,132.24 669.39,130.80 669.87,129.36 670.34,127.92 670.82,126.48 671.29,125.04 671.77,123.60 672.25,122.16 672.72,120.72 673.20,119.28 673.68,117.84 674.15,116.40 674.63,114.97 675.11,113.53 675.59,112.10 676.07,110.66 676.56,109.23 677.04,107.79 677.52,106.36 678.01,104.93 678.50,103.50" stroke="#857a26" stroke-width="1.45"/>
</g>
<path d="M509.40,233.10v-2M509.40,30.40v2M523.49,233.10v-2M523.49,30.40v2M537.58,233.10v-2M537.58,30.40v2M551.67,233.10v-2M551.67,30.40v2M565.77,233.10v-2M565.77,30.40v2M579.86,233.10v-2M579.86,30.40v2M593.95,233.10v-2M593.95,30.40v2M608.04,233.10v-2M608.04,30.40v2M622.13,233.10v-2M622.13,30.40v2M636.23,233.10v-2M636.23,30.40v2M650.32,233.10v-2M650.32,30.40v2M664.41,233.10v-2M664.41,30.40v2M678.50,233.10v-2M678.50,30.40v2M509.40,30.40h2M678.50,30.40h-2M509.40,64.18h2M678.50,64.18h-2M509.40,97.97h2M678.50,97.97h-2M509.40,131.75h2M678.50,131.75h-2M509.40,165.53h2M678.50,165.53h-2M509.40,199.32h2M678.50,199.32h-2M509.40,233.10h2M678.50,233.10h-2" stroke="#4a4a4a" stroke-width="0.9" fill="none"/>
<rect x="509.40" y="30.40" width="169.10" height="202.70" fill="none" stroke="#4a4a4a" stroke-width="1"/>
<text x="509.40" y="242.5" font-size="9.1" text-anchor="middle" fill="#222">2.4</text>
<text x="537.58" y="242.5" font-size="9.1" text-anchor="middle" fill="#222">2.6</text>
<text x="565.77" y="242.5" font-size="9.1" text-anchor="middle" fill="#222">2.8</text>
<text x="593.95" y="242.5" font-size="9.1" text-anchor="middle" fill="#222">3.0</text>
<text x="622.13" y="242.5" font-size="9.1" text-anchor="middle" fill="#222">3.2</text>
<text x="650.32" y="242.5" font-size="9.1" text-anchor="middle" fill="#222">3.4</text>
<text x="678.50" y="242.5" font-size="9.1" text-anchor="middle" fill="#222">3.6</text>
<text x="506.20" y="33.70" font-size="9.3" text-anchor="end" fill="#222">0.000</text>
<text x="506.20" y="101.27" font-size="9.3" text-anchor="end" fill="#222">-0.002</text>
<text x="506.20" y="168.83" font-size="9.3" text-anchor="end" fill="#222">-0.004</text>
<text x="506.20" y="236.40" font-size="9.3" text-anchor="end" fill="#222">-0.006</text>
<text x="593.65" y="254.7" font-size="12.8" text-anchor="middle" fill="#111">ρ<tspan font-size="11.5" dy="-1.0" dx="0.3">*</tspan></text>
<text transform="translate(476.10,131.15) rotate(-90)" font-size="12.4" letter-spacing="0.5" text-anchor="middle" fill="#111">(u-u<tspan font-size="8.5" dy="3">Tri</tspan><tspan dy="-3">)/ε</tspan></text>
<text transform="translate(517.90,226.10) scale(0.93,1)" font-size="14" fill="#111">α=2.5</text>
<text x="469.10" y="11.8" font-size="15.7" fill="#231f20">C</text>
<path d="M515.8,39.10H526.5" stroke="#ff66ff" stroke-width="1.0" stroke-dasharray="2.1 1.6"/>
<text x="528.7" y="41.70" font-size="7.0" fill="#ff66ff">Sq</text>
<path d="M515.8,48.40H526.5" stroke="#941414" stroke-width="1.0" stroke-dasharray="2.1 1.6"/>
<text x="528.7" y="51.00" font-size="7.0" fill="#941414">Str</text>
<path d="M515.8,56.80H526.5" stroke="#1cabb9" stroke-width="1.0" stroke-dasharray="2.1 1.6"/>
<text x="528.7" y="59.40" font-size="7.0" fill="#1cabb9">SHon</text>
<path d="M515.8,65.30H526.5" stroke="#27858a" stroke-width="1.0" stroke-dasharray="2.1 1.6"/>
<text x="528.7" y="67.90" font-size="7.0" fill="#27858a">Hon</text>
<path d="M515.8,73.70H526.5" stroke="#7820b0" stroke-width="1.0"/>
<text x="528.7" y="76.30" font-size="7.0" fill="#7820b0">Agra</text>
<path d="M515.8,82.10H526.5" stroke="#205e90" stroke-width="1.0"/>
<text x="528.7" y="84.70" font-size="7.0" fill="#205e90">Cairo</text>
<path d="M515.8,90.40H526.5" stroke="#1c921c" stroke-width="1.0"/>
<text x="528.7" y="93.00" font-size="7.0" fill="#1c921c">Chengtu</text>
<path d="M515.8,98.70H526.5" stroke="#e3742c" stroke-width="1.0"/>
<text x="528.7" y="101.30" font-size="7.0" fill="#e3742c">PenTri-Rec</text>
<path d="M515.8,107.10H526.5" stroke="#857a26" stroke-width="1.0"/>
<text x="528.7" y="109.70" font-size="7.0" fill="#857a26">PenHex-Str</text>
</svg>
</body></html>
